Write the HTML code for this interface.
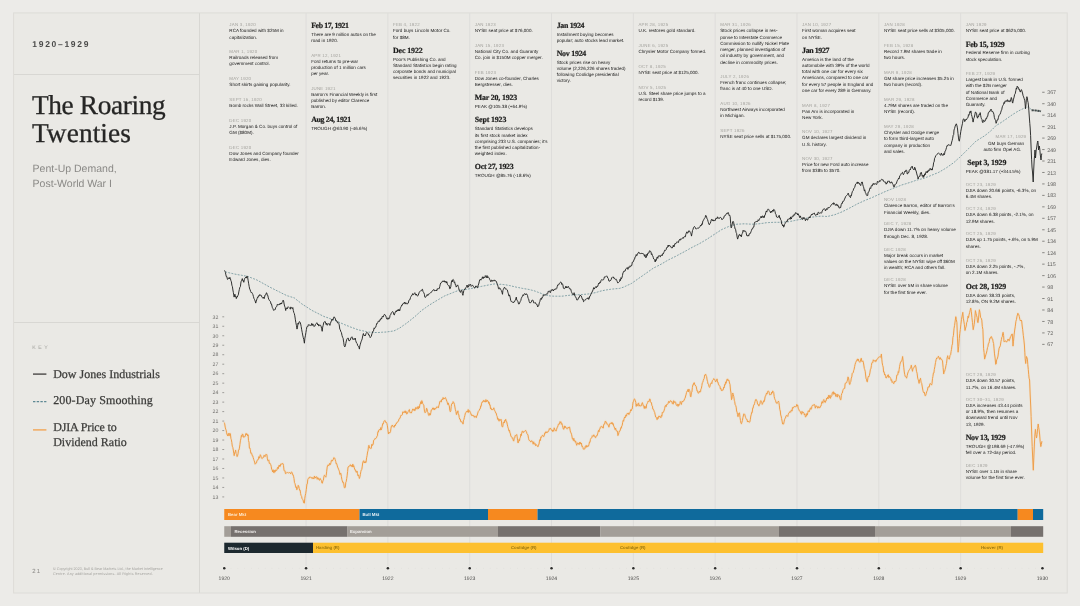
<!DOCTYPE html>
<html lang="en"><head><meta charset="utf-8"><title>The Roaring Twenties, 1920–1929</title>
<style>
*{margin:0;padding:0;box-sizing:border-box}
html,body{width:1080px;height:606px;overflow:hidden;background:#ecebe8}
body{position:relative;font-family:"Liberation Sans",sans-serif;color:#161616;text-rendering:geometricPrecision}
#frame{position:absolute;left:13.6px;top:12.9px;width:1053.6px;height:580.1px;background:#eae9e5}
.hl{position:absolute;left:14px;width:185px;height:1px;background:#d8d7d3}
.vl{position:absolute;top:13px;width:1px;height:580px;background:#d8d7d3}
svg{position:absolute;left:0;top:0}
.t{position:absolute;white-space:nowrap}
.era{left:32.3px;top:39.3px;font-size:8.5px;line-height:10px;font-weight:bold;letter-spacing:1.7px;color:#4a4a49}
.title{left:32px;top:91.2px;font-family:"Liberation Serif",serif;font-size:27.3px;line-height:28.3px;letter-spacing:-0.35px;color:#262625;-webkit-text-stroke:.3px #262625}
.title span{letter-spacing:.1px;position:relative;top:0px}
.sub{left:32.6px;font-size:10.5px;line-height:14px;color:#8a8986}
.key{left:32.3px;top:345px;font-size:5.2px;line-height:7px;letter-spacing:2.5px;color:#a3a29e}
.lg{left:53.2px;font-family:"Liberation Serif",serif;font-size:12px;line-height:15px;color:#3c3c3a;-webkit-text-stroke:.25px #3c3c3a}
.pg{left:32.3px;top:567.6px;font-size:6px;line-height:8px;letter-spacing:1.2px;color:#8b8a87}
.cp{left:53px;top:567.4px;font-size:3.7px;line-height:5px;color:#a6a5a1}
.ann{position:absolute;white-space:nowrap;font-size:4.55px;letter-spacing:.02px;line-height:6.25px;color:#161616}
.ann b{display:block;font-weight:normal;font-size:4.4px;letter-spacing:.22px;color:#a3a29d;line-height:6.1px}
.ann h3{display:block;font-family:"Liberation Serif",serif;font-weight:bold;font-size:7.9px;letter-spacing:-.12px;line-height:8px;color:#1c1c1b;-webkit-text-stroke:.2px #1c1c1b;margin-top:-1px;margin-bottom:2.1px}
.ann i{display:block;font-style:normal}
.ax{position:absolute;font-size:5.2px;line-height:6px;color:#6f6e6b;white-space:nowrap}
.axr{font-size:5.3px;color:#5f5e5c}
.yr{position:absolute;font-size:5.1px;line-height:7px;color:#4d4c4a;white-space:nowrap;width:30px;text-align:center}
.bl{position:absolute;font-size:4.3px;line-height:6px;white-space:nowrap;font-weight:bold}
</style></head>
<body>
<div id="frame"></div>
<div class="hl" style="top:74px"></div>
<div class="hl" style="top:322px"></div>
<div class="vl" style="left:198.6px"></div>
<svg width="1080" height="606" viewBox="0 0 1080 606">
<rect x="13.6" y="12.9" width="1053.6" height="580.1" fill="none" stroke="#dddcd8" stroke-width="1"/>
<line x1="306.07" y1="13" x2="306.07" y2="566" stroke="#dedddb" stroke-width="1"/>
<line x1="387.89" y1="13" x2="387.89" y2="566" stroke="#dedddb" stroke-width="1"/>
<line x1="469.71" y1="13" x2="469.71" y2="566" stroke="#dedddb" stroke-width="1"/>
<line x1="551.53" y1="13" x2="551.53" y2="566" stroke="#dedddb" stroke-width="1"/>
<line x1="633.35" y1="13" x2="633.35" y2="566" stroke="#dedddb" stroke-width="1"/>
<line x1="715.17" y1="13" x2="715.17" y2="566" stroke="#dedddb" stroke-width="1"/>
<line x1="796.99" y1="13" x2="796.99" y2="566" stroke="#dedddb" stroke-width="1"/>
<line x1="878.81" y1="13" x2="878.81" y2="566" stroke="#dedddb" stroke-width="1"/>
<line x1="960.63" y1="13" x2="960.63" y2="566" stroke="#dedddb" stroke-width="1"/>
<rect x="224.25" y="509.00" width="135.25" height="11.00" fill="#f6891f"/>
<rect x="359.50" y="509.00" width="128.50" height="11.00" fill="#0f6a9c"/>
<rect x="488.00" y="509.00" width="49.50" height="11.00" fill="#f6891f"/>
<rect x="537.50" y="509.00" width="480.20" height="11.00" fill="#0f6a9c"/>
<rect x="1017.70" y="509.00" width="15.30" height="11.00" fill="#f6891f"/>
<rect x="1033.00" y="509.00" width="10.20" height="11.00" fill="#0f6a9c"/>
<rect x="224.25" y="526.20" width="6.75" height="10.60" fill="#a39e98"/>
<rect x="231.00" y="526.20" width="116.50" height="10.60" fill="#76716e"/>
<rect x="347.50" y="526.20" width="150.50" height="10.60" fill="#a39e98"/>
<rect x="498.00" y="526.20" width="102.30" height="10.60" fill="#76716e"/>
<rect x="600.30" y="526.20" width="178.70" height="10.60" fill="#a39e98"/>
<rect x="779.00" y="526.20" width="96.00" height="10.60" fill="#76716e"/>
<rect x="875.00" y="526.20" width="136.00" height="10.60" fill="#a39e98"/>
<rect x="1011.00" y="526.20" width="32.20" height="10.60" fill="#76716e"/>
<rect x="224.25" y="542.70" width="88.75" height="10.30" fill="#1d292f"/>
<rect x="313.00" y="542.70" width="730.20" height="10.30" fill="#fdc02f"/>
<circle cx="224.25" cy="568.3" r="1.25" fill="#2b2b2a"/>
<circle cx="306.07" cy="568.3" r="1.25" fill="#2b2b2a"/>
<circle cx="387.89" cy="568.3" r="1.25" fill="#2b2b2a"/>
<circle cx="469.71" cy="568.3" r="1.25" fill="#2b2b2a"/>
<circle cx="551.53" cy="568.3" r="1.25" fill="#2b2b2a"/>
<circle cx="633.35" cy="568.3" r="1.25" fill="#2b2b2a"/>
<circle cx="715.17" cy="568.3" r="1.25" fill="#2b2b2a"/>
<circle cx="796.99" cy="568.3" r="1.25" fill="#2b2b2a"/>
<circle cx="878.81" cy="568.3" r="1.25" fill="#2b2b2a"/>
<circle cx="960.63" cy="568.3" r="1.25" fill="#2b2b2a"/>
<circle cx="1042.45" cy="568.3" r="1.25" fill="#2b2b2a"/>
<circle cx="231.07" cy="568.3" r="0.45" fill="#dddcd8"/>
<circle cx="237.89" cy="568.3" r="0.45" fill="#dddcd8"/>
<circle cx="244.70" cy="568.3" r="0.45" fill="#dddcd8"/>
<circle cx="251.52" cy="568.3" r="0.45" fill="#dddcd8"/>
<circle cx="258.34" cy="568.3" r="0.45" fill="#dddcd8"/>
<circle cx="265.16" cy="568.3" r="0.45" fill="#dddcd8"/>
<circle cx="271.98" cy="568.3" r="0.45" fill="#dddcd8"/>
<circle cx="278.80" cy="568.3" r="0.45" fill="#dddcd8"/>
<circle cx="285.62" cy="568.3" r="0.45" fill="#dddcd8"/>
<circle cx="292.43" cy="568.3" r="0.45" fill="#dddcd8"/>
<circle cx="299.25" cy="568.3" r="0.45" fill="#dddcd8"/>
<circle cx="312.89" cy="568.3" r="0.45" fill="#dddcd8"/>
<circle cx="319.71" cy="568.3" r="0.45" fill="#dddcd8"/>
<circle cx="326.52" cy="568.3" r="0.45" fill="#dddcd8"/>
<circle cx="333.34" cy="568.3" r="0.45" fill="#dddcd8"/>
<circle cx="340.16" cy="568.3" r="0.45" fill="#dddcd8"/>
<circle cx="346.98" cy="568.3" r="0.45" fill="#dddcd8"/>
<circle cx="353.80" cy="568.3" r="0.45" fill="#dddcd8"/>
<circle cx="360.62" cy="568.3" r="0.45" fill="#dddcd8"/>
<circle cx="367.44" cy="568.3" r="0.45" fill="#dddcd8"/>
<circle cx="374.25" cy="568.3" r="0.45" fill="#dddcd8"/>
<circle cx="381.07" cy="568.3" r="0.45" fill="#dddcd8"/>
<circle cx="394.71" cy="568.3" r="0.45" fill="#dddcd8"/>
<circle cx="401.53" cy="568.3" r="0.45" fill="#dddcd8"/>
<circle cx="408.34" cy="568.3" r="0.45" fill="#dddcd8"/>
<circle cx="415.16" cy="568.3" r="0.45" fill="#dddcd8"/>
<circle cx="421.98" cy="568.3" r="0.45" fill="#dddcd8"/>
<circle cx="428.80" cy="568.3" r="0.45" fill="#dddcd8"/>
<circle cx="435.62" cy="568.3" r="0.45" fill="#dddcd8"/>
<circle cx="442.44" cy="568.3" r="0.45" fill="#dddcd8"/>
<circle cx="449.25" cy="568.3" r="0.45" fill="#dddcd8"/>
<circle cx="456.07" cy="568.3" r="0.45" fill="#dddcd8"/>
<circle cx="462.89" cy="568.3" r="0.45" fill="#dddcd8"/>
<circle cx="476.53" cy="568.3" r="0.45" fill="#dddcd8"/>
<circle cx="483.35" cy="568.3" r="0.45" fill="#dddcd8"/>
<circle cx="490.16" cy="568.3" r="0.45" fill="#dddcd8"/>
<circle cx="496.98" cy="568.3" r="0.45" fill="#dddcd8"/>
<circle cx="503.80" cy="568.3" r="0.45" fill="#dddcd8"/>
<circle cx="510.62" cy="568.3" r="0.45" fill="#dddcd8"/>
<circle cx="517.44" cy="568.3" r="0.45" fill="#dddcd8"/>
<circle cx="524.26" cy="568.3" r="0.45" fill="#dddcd8"/>
<circle cx="531.07" cy="568.3" r="0.45" fill="#dddcd8"/>
<circle cx="537.89" cy="568.3" r="0.45" fill="#dddcd8"/>
<circle cx="544.71" cy="568.3" r="0.45" fill="#dddcd8"/>
<circle cx="558.35" cy="568.3" r="0.45" fill="#dddcd8"/>
<circle cx="565.17" cy="568.3" r="0.45" fill="#dddcd8"/>
<circle cx="571.99" cy="568.3" r="0.45" fill="#dddcd8"/>
<circle cx="578.80" cy="568.3" r="0.45" fill="#dddcd8"/>
<circle cx="585.62" cy="568.3" r="0.45" fill="#dddcd8"/>
<circle cx="592.44" cy="568.3" r="0.45" fill="#dddcd8"/>
<circle cx="599.26" cy="568.3" r="0.45" fill="#dddcd8"/>
<circle cx="606.08" cy="568.3" r="0.45" fill="#dddcd8"/>
<circle cx="612.89" cy="568.3" r="0.45" fill="#dddcd8"/>
<circle cx="619.71" cy="568.3" r="0.45" fill="#dddcd8"/>
<circle cx="626.53" cy="568.3" r="0.45" fill="#dddcd8"/>
<circle cx="640.17" cy="568.3" r="0.45" fill="#dddcd8"/>
<circle cx="646.99" cy="568.3" r="0.45" fill="#dddcd8"/>
<circle cx="653.80" cy="568.3" r="0.45" fill="#dddcd8"/>
<circle cx="660.62" cy="568.3" r="0.45" fill="#dddcd8"/>
<circle cx="667.44" cy="568.3" r="0.45" fill="#dddcd8"/>
<circle cx="674.26" cy="568.3" r="0.45" fill="#dddcd8"/>
<circle cx="681.08" cy="568.3" r="0.45" fill="#dddcd8"/>
<circle cx="687.90" cy="568.3" r="0.45" fill="#dddcd8"/>
<circle cx="694.71" cy="568.3" r="0.45" fill="#dddcd8"/>
<circle cx="701.53" cy="568.3" r="0.45" fill="#dddcd8"/>
<circle cx="708.35" cy="568.3" r="0.45" fill="#dddcd8"/>
<circle cx="721.99" cy="568.3" r="0.45" fill="#dddcd8"/>
<circle cx="728.81" cy="568.3" r="0.45" fill="#dddcd8"/>
<circle cx="735.62" cy="568.3" r="0.45" fill="#dddcd8"/>
<circle cx="742.44" cy="568.3" r="0.45" fill="#dddcd8"/>
<circle cx="749.26" cy="568.3" r="0.45" fill="#dddcd8"/>
<circle cx="756.08" cy="568.3" r="0.45" fill="#dddcd8"/>
<circle cx="762.90" cy="568.3" r="0.45" fill="#dddcd8"/>
<circle cx="769.72" cy="568.3" r="0.45" fill="#dddcd8"/>
<circle cx="776.53" cy="568.3" r="0.45" fill="#dddcd8"/>
<circle cx="783.35" cy="568.3" r="0.45" fill="#dddcd8"/>
<circle cx="790.17" cy="568.3" r="0.45" fill="#dddcd8"/>
<circle cx="803.81" cy="568.3" r="0.45" fill="#dddcd8"/>
<circle cx="810.63" cy="568.3" r="0.45" fill="#dddcd8"/>
<circle cx="817.45" cy="568.3" r="0.45" fill="#dddcd8"/>
<circle cx="824.26" cy="568.3" r="0.45" fill="#dddcd8"/>
<circle cx="831.08" cy="568.3" r="0.45" fill="#dddcd8"/>
<circle cx="837.90" cy="568.3" r="0.45" fill="#dddcd8"/>
<circle cx="844.72" cy="568.3" r="0.45" fill="#dddcd8"/>
<circle cx="851.54" cy="568.3" r="0.45" fill="#dddcd8"/>
<circle cx="858.36" cy="568.3" r="0.45" fill="#dddcd8"/>
<circle cx="865.17" cy="568.3" r="0.45" fill="#dddcd8"/>
<circle cx="871.99" cy="568.3" r="0.45" fill="#dddcd8"/>
<circle cx="885.63" cy="568.3" r="0.45" fill="#dddcd8"/>
<circle cx="892.45" cy="568.3" r="0.45" fill="#dddcd8"/>
<circle cx="899.26" cy="568.3" r="0.45" fill="#dddcd8"/>
<circle cx="906.08" cy="568.3" r="0.45" fill="#dddcd8"/>
<circle cx="912.90" cy="568.3" r="0.45" fill="#dddcd8"/>
<circle cx="919.72" cy="568.3" r="0.45" fill="#dddcd8"/>
<circle cx="926.54" cy="568.3" r="0.45" fill="#dddcd8"/>
<circle cx="933.36" cy="568.3" r="0.45" fill="#dddcd8"/>
<circle cx="940.17" cy="568.3" r="0.45" fill="#dddcd8"/>
<circle cx="946.99" cy="568.3" r="0.45" fill="#dddcd8"/>
<circle cx="953.81" cy="568.3" r="0.45" fill="#dddcd8"/>
<circle cx="967.45" cy="568.3" r="0.45" fill="#dddcd8"/>
<circle cx="974.27" cy="568.3" r="0.45" fill="#dddcd8"/>
<circle cx="981.08" cy="568.3" r="0.45" fill="#dddcd8"/>
<circle cx="987.90" cy="568.3" r="0.45" fill="#dddcd8"/>
<circle cx="994.72" cy="568.3" r="0.45" fill="#dddcd8"/>
<circle cx="1001.54" cy="568.3" r="0.45" fill="#dddcd8"/>
<circle cx="1008.36" cy="568.3" r="0.45" fill="#dddcd8"/>
<circle cx="1015.18" cy="568.3" r="0.45" fill="#dddcd8"/>
<circle cx="1021.99" cy="568.3" r="0.45" fill="#dddcd8"/>
<circle cx="1028.81" cy="568.3" r="0.45" fill="#dddcd8"/>
<circle cx="1035.63" cy="568.3" r="0.45" fill="#dddcd8"/>
<line x1="222.3" y1="316.80" x2="224.2" y2="316.80" stroke="#7e7d7a" stroke-width=".7"/>
<line x1="222.3" y1="326.28" x2="224.2" y2="326.28" stroke="#7e7d7a" stroke-width=".7"/>
<line x1="222.3" y1="335.76" x2="224.2" y2="335.76" stroke="#7e7d7a" stroke-width=".7"/>
<line x1="222.3" y1="345.24" x2="224.2" y2="345.24" stroke="#7e7d7a" stroke-width=".7"/>
<line x1="222.3" y1="354.72" x2="224.2" y2="354.72" stroke="#7e7d7a" stroke-width=".7"/>
<line x1="222.3" y1="364.20" x2="224.2" y2="364.20" stroke="#7e7d7a" stroke-width=".7"/>
<line x1="222.3" y1="373.68" x2="224.2" y2="373.68" stroke="#7e7d7a" stroke-width=".7"/>
<line x1="222.3" y1="383.16" x2="224.2" y2="383.16" stroke="#7e7d7a" stroke-width=".7"/>
<line x1="222.3" y1="392.64" x2="224.2" y2="392.64" stroke="#7e7d7a" stroke-width=".7"/>
<line x1="222.3" y1="402.12" x2="224.2" y2="402.12" stroke="#7e7d7a" stroke-width=".7"/>
<line x1="222.3" y1="411.60" x2="224.2" y2="411.60" stroke="#7e7d7a" stroke-width=".7"/>
<line x1="222.3" y1="421.08" x2="224.2" y2="421.08" stroke="#7e7d7a" stroke-width=".7"/>
<line x1="222.3" y1="430.56" x2="224.2" y2="430.56" stroke="#7e7d7a" stroke-width=".7"/>
<line x1="222.3" y1="440.04" x2="224.2" y2="440.04" stroke="#7e7d7a" stroke-width=".7"/>
<line x1="222.3" y1="449.52" x2="224.2" y2="449.52" stroke="#7e7d7a" stroke-width=".7"/>
<line x1="222.3" y1="459.00" x2="224.2" y2="459.00" stroke="#7e7d7a" stroke-width=".7"/>
<line x1="222.3" y1="468.48" x2="224.2" y2="468.48" stroke="#7e7d7a" stroke-width=".7"/>
<line x1="222.3" y1="477.96" x2="224.2" y2="477.96" stroke="#7e7d7a" stroke-width=".7"/>
<line x1="222.3" y1="487.44" x2="224.2" y2="487.44" stroke="#7e7d7a" stroke-width=".7"/>
<line x1="222.3" y1="496.92" x2="224.2" y2="496.92" stroke="#7e7d7a" stroke-width=".7"/>
<line x1="1042.2" y1="92.25" x2="1044.6" y2="92.25" stroke="#6e6d6a" stroke-width=".8"/>
<line x1="1042.2" y1="103.71" x2="1044.6" y2="103.71" stroke="#6e6d6a" stroke-width=".8"/>
<line x1="1042.2" y1="115.17" x2="1044.6" y2="115.17" stroke="#6e6d6a" stroke-width=".8"/>
<line x1="1042.2" y1="126.63" x2="1044.6" y2="126.63" stroke="#6e6d6a" stroke-width=".8"/>
<line x1="1042.2" y1="138.09" x2="1044.6" y2="138.09" stroke="#6e6d6a" stroke-width=".8"/>
<line x1="1042.2" y1="149.55" x2="1044.6" y2="149.55" stroke="#6e6d6a" stroke-width=".8"/>
<line x1="1042.2" y1="161.01" x2="1044.6" y2="161.01" stroke="#6e6d6a" stroke-width=".8"/>
<line x1="1042.2" y1="172.47" x2="1044.6" y2="172.47" stroke="#6e6d6a" stroke-width=".8"/>
<line x1="1042.2" y1="183.93" x2="1044.6" y2="183.93" stroke="#6e6d6a" stroke-width=".8"/>
<line x1="1042.2" y1="195.39" x2="1044.6" y2="195.39" stroke="#6e6d6a" stroke-width=".8"/>
<line x1="1042.2" y1="206.85" x2="1044.6" y2="206.85" stroke="#6e6d6a" stroke-width=".8"/>
<line x1="1042.2" y1="218.31" x2="1044.6" y2="218.31" stroke="#6e6d6a" stroke-width=".8"/>
<line x1="1042.2" y1="229.77" x2="1044.6" y2="229.77" stroke="#6e6d6a" stroke-width=".8"/>
<line x1="1042.2" y1="241.23" x2="1044.6" y2="241.23" stroke="#6e6d6a" stroke-width=".8"/>
<line x1="1042.2" y1="252.69" x2="1044.6" y2="252.69" stroke="#6e6d6a" stroke-width=".8"/>
<line x1="1042.2" y1="264.15" x2="1044.6" y2="264.15" stroke="#6e6d6a" stroke-width=".8"/>
<line x1="1042.2" y1="275.61" x2="1044.6" y2="275.61" stroke="#6e6d6a" stroke-width=".8"/>
<line x1="1042.2" y1="287.07" x2="1044.6" y2="287.07" stroke="#6e6d6a" stroke-width=".8"/>
<line x1="1042.2" y1="298.53" x2="1044.6" y2="298.53" stroke="#6e6d6a" stroke-width=".8"/>
<line x1="1042.2" y1="309.99" x2="1044.6" y2="309.99" stroke="#6e6d6a" stroke-width=".8"/>
<line x1="1042.2" y1="321.45" x2="1044.6" y2="321.45" stroke="#6e6d6a" stroke-width=".8"/>
<line x1="1042.2" y1="332.91" x2="1044.6" y2="332.91" stroke="#6e6d6a" stroke-width=".8"/>
<line x1="1042.2" y1="344.37" x2="1044.6" y2="344.37" stroke="#6e6d6a" stroke-width=".8"/>
<path d="M225.2,271.9 L227.1,272.3 L229.1,272.8 L231.0,273.2 L232.9,273.7 L234.9,274.1 L237.0,274.5 L239.1,274.9 L241.2,275.2 L243.3,275.6 L245.4,276.0 L247.5,276.3 L249.4,277.1 L251.3,277.8 L253.3,278.6 L255.2,279.3 L257.1,280.1 L259.1,281.2 L261.1,282.3 L263.1,283.4 L265.1,284.5 L267.0,285.6 L269.0,286.7 L271.1,287.8 L273.2,288.8 L275.3,289.9 L277.3,290.9 L279.4,291.9 L281.3,292.9 L283.1,293.8 L285.0,294.7 L286.9,295.7 L288.7,296.2 L290.6,296.8 L292.4,297.3 L294.3,297.9 L296.1,299.4 L298.0,300.9 L299.9,302.3 L301.7,303.8 L303.8,305.2 L305.9,306.5 L307.9,307.8 L310.0,309.2 L312.1,310.5 L314.1,311.5 L316.1,312.5 L318.1,313.5 L320.0,314.5 L322.0,315.5 L324.0,316.5 L326.1,317.2 L328.2,317.9 L330.2,318.7 L332.3,319.4 L334.4,320.2 L336.4,321.0 L338.4,321.9 L340.3,322.8 L342.3,323.6 L344.3,324.5 L346.3,325.4 L348.3,326.1 L350.2,326.9 L352.2,327.6 L354.2,328.3 L356.2,329.1 L358.2,329.8 L360.2,330.3 L362.3,330.7 L364.4,331.2 L366.5,331.6 L368.6,332.1 L370.8,332.3 L373.0,332.5 L375.0,332.5 L376.9,332.5 L378.9,332.5 L380.8,332.3 L382.6,332.2 L384.5,332.1 L386.3,332.0 L388.2,331.7 L390.1,331.5 L391.9,331.2 L393.8,331.0 L395.8,330.0 L397.7,329.0 L399.7,328.0 L401.6,326.7 L403.4,325.4 L405.3,324.1 L407.1,322.8 L409.0,321.3 L410.9,319.8 L412.7,318.3 L414.6,316.9 L416.4,315.2 L418.3,313.5 L420.1,311.8 L422.0,310.2 L423.9,308.9 L425.7,307.6 L427.6,306.3 L429.4,305.0 L431.3,303.9 L433.1,302.7 L435.0,301.6 L436.9,300.5 L438.7,299.4 L440.6,298.3 L442.4,297.2 L444.3,296.1 L446.1,295.3 L448.0,294.6 L449.9,293.8 L451.7,293.1 L453.6,292.3 L455.4,291.6 L457.3,290.9 L459.1,290.1 L461.0,289.9 L462.9,289.7 L464.7,289.6 L466.6,289.4 L468.4,289.0 L470.3,288.6 L472.1,288.3 L474.0,287.9 L475.8,287.5 L477.7,287.1 L479.6,286.8 L481.4,286.4 L483.3,286.0 L485.1,285.7 L487.0,285.3 L488.8,284.9 L490.8,284.6 L492.8,284.2 L494.8,283.9 L497.0,284.2 L499.2,284.5 L500.0,284.2 L501.9,284.4 L503.7,284.6 L505.6,284.8 L507.5,285.2 L509.4,285.5 L511.2,285.9 L513.1,286.4 L515.0,286.8 L516.8,287.3 L518.7,287.6 L520.6,288.0 L522.5,288.4 L524.3,288.7 L526.2,289.0 L528.1,289.3 L529.9,289.7 L531.8,290.2 L533.7,290.6 L535.5,291.3 L537.4,292.0 L539.3,292.7 L541.2,293.4 L543.0,294.2 L544.9,294.9 L546.8,295.3 L548.6,295.7 L550.5,296.0 L552.4,296.1 L554.3,296.2 L556.1,296.2 L558.0,296.2 L559.9,296.2 L561.7,296.2 L563.6,296.0 L565.5,295.7 L567.4,295.5 L569.2,295.3 L571.1,295.1 L573.0,294.9 L574.8,294.8 L576.7,294.8 L578.6,294.7 L580.4,294.6 L582.3,294.5 L584.2,294.3 L586.1,294.2 L587.9,294.0 L589.8,293.8 L591.7,293.4 L593.5,293.0 L595.4,292.7 L597.3,292.1 L599.2,291.5 L601.0,291.0 L602.9,290.6 L604.8,290.2 L606.6,289.9 L608.5,289.6 L610.4,289.3 L612.3,289.1 L614.1,288.9 L615.9,288.7 L617.7,288.6 L619.6,288.4 L621.8,287.7 L624.0,287.0 L625.8,286.1 L627.7,285.2 L629.6,284.4 L631.4,283.5 L633.3,282.2 L635.1,280.9 L637.0,279.6 L638.8,278.3 L640.7,277.0 L642.6,275.7 L644.4,274.4 L646.3,273.1 L648.1,271.8 L650.0,270.5 L651.8,269.2 L653.7,267.9 L655.6,267.0 L657.4,266.1 L659.3,265.2 L661.1,264.2 L663.0,263.1 L664.8,262.0 L666.7,260.9 L668.6,259.8 L670.0,259.1 L671.9,258.2 L673.7,257.3 L675.6,256.4 L677.4,255.4 L679.3,254.4 L681.1,253.4 L683.0,252.4 L684.9,251.4 L686.7,250.4 L688.6,249.3 L690.4,248.3 L692.3,247.3 L694.1,246.3 L696.0,245.4 L697.9,244.5 L699.7,243.5 L701.6,242.4 L703.4,241.3 L705.3,240.2 L707.1,239.1 L709.0,237.9 L710.9,236.6 L712.7,235.4 L714.6,234.2 L716.4,233.0 L718.3,231.8 L720.1,230.6 L722.0,229.4 L723.9,228.6 L725.7,227.8 L727.6,227.0 L729.4,226.2 L731.3,225.7 L733.1,225.2 L735.0,224.7 L736.9,224.2 L738.7,224.1 L740.6,224.0 L742.4,223.9 L744.3,223.8 L746.1,223.9 L748.0,224.0 L749.9,224.1 L751.7,224.2 L753.6,224.1 L755.4,224.0 L757.3,223.9 L759.1,223.8 L761.0,223.5 L762.9,223.3 L764.7,223.0 L766.6,222.7 L768.4,222.6 L770.3,222.5 L772.1,222.4 L774.0,222.3 L775.8,222.3 L777.7,222.3 L779.6,222.3 L781.4,222.3 L783.3,222.1 L785.1,222.0 L787.0,221.8 L788.8,221.7 L790.7,221.3 L792.6,221.0 L794.4,220.6 L796.3,220.2 L798.1,219.8 L800.0,219.5 L801.8,219.1 L803.7,218.7 L805.6,218.4 L807.4,218.0 L809.3,217.6 L811.1,217.2 L813.0,217.0 L814.8,216.8 L816.7,216.6 L818.6,216.4 L820.0,216.2 L821.9,216.2 L823.7,216.3 L825.6,216.4 L827.4,216.5 L829.3,216.0 L831.1,215.6 L833.0,215.1 L834.9,214.7 L836.7,213.9 L838.6,213.2 L840.4,212.5 L842.3,211.7 L844.1,210.8 L846.0,209.9 L847.9,208.9 L849.7,208.0 L851.6,207.0 L853.4,206.0 L855.3,205.0 L857.1,204.0 L859.0,203.1 L860.9,202.3 L862.7,201.4 L864.6,200.6 L866.4,199.8 L868.3,199.1 L870.1,198.3 L872.0,197.6 L873.9,196.7 L875.7,195.9 L877.6,195.0 L879.4,194.2 L881.3,193.4 L883.1,192.5 L885.0,191.7 L886.9,190.9 L888.7,190.2 L890.6,189.4 L892.4,188.7 L894.3,187.9 L896.1,187.2 L898.0,186.5 L899.9,185.7 L901.7,185.0 L903.6,184.4 L905.4,183.9 L907.3,183.3 L909.1,182.7 L911.0,182.1 L912.9,181.5 L914.7,180.8 L916.6,180.2 L918.4,179.7 L920.3,179.2 L922.1,178.8 L924.0,178.3 L925.8,177.5 L927.7,176.8 L929.6,176.1 L931.4,175.3 L933.3,174.6 L935.1,173.8 L937.0,173.1 L938.8,172.3 L940.7,171.2 L942.6,170.1 L944.4,169.0 L946.3,167.9 L948.1,166.6 L950.0,165.3 L951.8,164.0 L953.7,162.7 L955.6,161.0 L957.4,159.3 L959.3,157.7 L961.1,156.0 L963.0,154.1 L964.8,152.3 L966.7,150.4 L968.6,148.6 L970.4,146.7 L972.3,144.9 L974.1,143.0 L976.0,141.1 L978.2,139.8 L980.4,138.4 L982.7,137.0 L984.9,135.6 L986.8,134.1 L988.6,132.6 L990.5,131.1 L992.4,129.3 L994.3,127.4 L996.1,125.5 L998.0,124.4 L999.9,123.3 L1001.7,122.1 L1003.6,120.8 L1005.5,119.5 L1007.4,118.2 L1009.2,116.9 L1011.1,115.6 L1013.0,114.3 L1014.8,113.2 L1016.7,112.0 L1018.6,110.9 L1020.4,110.0 L1022.3,109.1 L1024.2,108.1 L1026.4,107.4 L1028.7,106.7 L1031.5,110.0 L1033.8,110.3 L1036.0,110.6 L1038.5,111.0 L1041.0,111.5" fill="none" stroke="#5f8890" stroke-width=".75" stroke-dasharray="1.9 1.3"/>
<path d="M224.2,422.5 L224.7,423.8 L225.2,427.1 L225.7,429.1 L226.2,430.3 L226.6,432.8 L227.1,434.6 L227.6,435.8 L228.1,433.9 L228.5,433.4 L229.0,436.0 L229.5,433.6 L230.0,433.2 L230.4,433.9 L230.9,438.5 L231.3,439.5 L231.8,442.4 L232.3,446.2 L232.8,447.4 L233.3,450.0 L233.8,453.4 L234.2,455.7 L234.7,452.5 L235.1,452.4 L235.6,450.0 L236.1,453.5 L236.6,454.5 L237.1,456.6 L237.5,455.9 L238.0,453.9 L238.5,450.1 L239.0,450.0 L239.4,448.1 L239.9,444.6 L240.4,440.8 L240.9,438.6 L241.4,435.4 L241.9,436.8 L242.4,433.9 L242.9,434.5 L243.3,436.1 L243.8,437.4 L244.3,436.7 L244.8,436.6 L245.2,436.5 L245.7,433.8 L246.2,433.3 L246.6,434.8 L247.1,433.9 L247.6,436.0 L248.1,434.8 L248.5,440.6 L249.0,442.2 L249.4,448.1 L249.9,448.0 L250.3,449.5 L250.8,453.3 L251.3,452.9 L251.8,453.8 L252.2,455.7 L252.7,455.7 L253.2,457.6 L253.7,459.3 L254.1,460.5 L254.6,462.0 L255.1,464.2 L255.6,463.6 L256.0,462.6 L256.5,462.8 L257.0,460.4 L257.5,460.1 L257.9,460.1 L258.4,458.9 L258.9,456.6 L259.4,458.2 L259.8,456.8 L260.3,454.7 L260.8,455.7 L261.3,457.5 L261.7,458.3 L262.2,458.6 L262.7,457.6 L263.2,457.4 L263.6,457.4 L264.1,455.1 L264.6,455.7 L265.0,456.7 L265.5,455.5 L266.0,454.2 L266.5,454.7 L266.9,454.6 L267.4,458.9 L267.9,460.8 L268.4,460.4 L268.8,459.9 L269.3,463.4 L269.8,463.0 L270.3,464.2 L270.7,464.4 L271.2,466.3 L271.7,469.5 L272.2,469.9 L272.6,472.0 L273.1,469.7 L273.6,472.5 L274.1,472.8 L274.5,470.4 L275.0,472.1 L275.5,470.0 L276.0,469.9 L276.4,470.6 L276.9,470.2 L277.4,467.8 L277.9,467.1 L278.3,468.7 L278.8,466.0 L279.3,465.0 L279.8,466.7 L280.3,466.1 L280.8,463.9 L281.2,463.9 L281.7,464.1 L282.1,464.2 L282.6,463.3 L283.1,463.9 L283.5,465.4 L284.0,470.3 L284.5,470.9 L285.0,470.7 L285.4,473.5 L285.9,473.7 L286.4,472.8 L286.9,472.3 L287.3,472.5 L287.8,472.6 L288.3,473.0 L288.8,472.8 L289.2,472.4 L289.7,472.6 L290.2,472.8 L290.7,474.0 L291.1,472.4 L291.6,472.1 L292.1,472.4 L292.6,474.7 L293.0,474.5 L293.5,476.2 L294.0,478.5 L294.5,482.7 L295.0,483.6 L295.5,486.0 L295.9,487.5 L296.4,486.8 L296.8,489.8 L297.3,488.6 L297.8,488.2 L298.2,485.3 L298.7,486.0 L299.2,488.4 L299.7,490.3 L300.1,490.1 L300.6,493.6 L301.1,495.5 L301.6,496.4 L302.0,498.5 L302.5,499.3 L303.0,499.7 L303.5,502.0 L303.9,503.0 L304.4,503.1 L304.8,498.2 L305.3,495.2 L305.7,493.6 L306.3,489.5 L306.9,484.1 L307.3,483.9 L307.8,479.5 L308.2,478.5 L308.7,478.1 L309.1,478.3 L309.6,477.1 L310.1,477.5 L310.6,477.2 L311.0,477.1 L311.5,477.5 L312.0,478.5 L312.5,477.6 L312.9,478.5 L313.4,477.8 L313.9,478.9 L314.4,476.0 L314.8,477.7 L315.3,478.0 L315.8,476.9 L316.3,476.7 L316.7,476.8 L317.2,479.3 L317.7,477.6 L318.2,477.9 L318.6,479.4 L319.1,479.3 L319.6,480.4 L320.1,478.4 L320.5,479.4 L321.0,479.6 L321.5,480.4 L321.9,483.0 L322.4,483.2 L322.9,480.8 L323.4,480.1 L323.9,476.6 L324.4,475.2 L324.9,475.6 L325.3,476.5 L325.8,477.2 L326.2,475.6 L326.7,471.2 L327.2,467.1 L327.6,465.6 L328.1,464.8 L328.6,465.8 L329.1,465.2 L329.5,463.4 L330.0,464.9 L330.5,464.3 L331.0,462.3 L331.4,460.4 L331.9,460.0 L332.4,461.1 L332.9,459.7 L333.3,459.5 L333.8,457.6 L334.3,458.0 L334.8,458.2 L335.2,459.7 L335.7,461.4 L336.2,463.9 L336.6,463.4 L337.1,465.1 L337.6,467.1 L338.1,468.0 L338.5,469.2 L339.0,470.3 L339.5,471.8 L340.0,474.5 L340.4,473.0 L340.9,473.6 L341.4,476.6 L341.9,479.6 L342.3,480.8 L342.8,482.6 L343.3,482.2 L343.8,483.9 L344.3,487.7 L344.8,487.9 L345.3,487.1 L345.8,482.2 L346.2,481.7 L346.7,478.5 L347.1,475.9 L347.6,471.5 L348.0,467.1 L348.5,467.0 L349.0,466.0 L349.5,466.0 L349.9,465.5 L350.4,464.7 L350.9,466.1 L351.3,466.4 L351.8,465.2 L352.3,467.0 L352.8,464.1 L353.2,467.1 L353.7,465.6 L354.2,467.3 L354.7,469.3 L355.1,470.3 L355.6,469.9 L356.1,472.3 L356.6,472.1 L357.0,471.0 L357.5,473.7 L358.0,475.8 L358.5,474.9 L358.9,476.6 L359.4,478.5 L359.9,476.9 L360.4,474.3 L360.8,471.7 L361.3,469.9 L361.8,469.4 L362.3,466.1 L362.7,462.9 L363.2,461.4 L363.7,460.7 L364.2,463.0 L364.6,461.8 L365.1,463.0 L365.6,461.6 L366.0,462.3 L366.6,457.8 L367.1,455.5 L367.6,451.9 L368.0,450.8 L368.5,446.3 L368.9,445.3 L369.4,447.0 L369.8,448.2 L370.3,448.5 L370.8,448.1 L371.3,448.3 L371.7,444.4 L372.2,445.7 L372.7,444.3 L373.2,444.4 L373.6,440.3 L374.1,439.9 L374.6,439.6 L375.1,438.3 L375.5,438.7 L376.0,437.9 L376.5,437.7 L377.0,436.2 L377.4,435.8 L377.9,431.6 L378.4,432.0 L378.9,429.9 L379.3,429.7 L379.8,429.2 L380.3,430.1 L380.7,427.6 L381.2,429.9 L381.7,428.5 L382.2,426.3 L382.7,423.7 L383.2,424.0 L383.7,422.2 L384.1,421.1 L384.6,420.6 L385.1,420.6 L385.5,422.3 L386.0,422.6 L386.5,422.4 L386.9,423.5 L387.4,425.8 L387.9,429.8 L388.4,433.9 L389.0,432.1 L389.5,433.2 L390.0,432.6 L390.5,431.7 L390.9,428.8 L391.4,426.1 L391.9,426.0 L392.4,425.0 L392.8,426.0 L393.3,427.0 L393.8,426.9 L394.3,427.2 L394.7,425.0 L395.2,425.9 L395.7,424.1 L396.2,424.0 L396.6,422.9 L397.1,422.2 L397.6,422.2 L398.1,421.2 L398.5,421.0 L399.0,419.0 L399.5,418.4 L400.0,418.4 L400.4,416.8 L400.9,415.3 L401.4,415.5 L401.9,414.9 L402.3,414.8 L402.8,411.8 L403.3,412.7 L403.8,411.9 L404.2,411.5 L404.7,412.6 L405.2,410.8 L405.6,412.9 L406.1,411.5 L406.5,413.9 L407.0,414.1 L407.4,413.6 L408.0,411.6 L408.5,411.2 L409.0,410.2 L409.4,409.5 L409.9,412.6 L410.4,412.6 L410.9,412.7 L411.3,413.1 L411.8,411.8 L412.3,410.4 L412.8,408.9 L413.2,410.2 L413.7,410.1 L414.2,408.9 L414.7,410.8 L415.1,410.4 L415.6,407.6 L416.1,407.4 L416.6,407.9 L417.0,409.2 L417.5,406.8 L418.0,407.2 L418.5,408.9 L418.9,406.3 L419.4,407.9 L419.9,404.2 L420.3,404.1 L420.8,401.7 L421.3,403.9 L421.8,400.6 L422.2,401.3 L422.8,403.8 L423.3,404.4 L423.8,405.1 L424.2,408.8 L424.6,411.8 L425.1,412.7 L425.6,412.0 L426.0,411.9 L426.5,408.2 L427.0,408.9 L427.5,411.5 L427.9,412.2 L428.4,414.6 L428.9,415.5 L429.4,413.4 L429.8,415.0 L430.3,415.0 L430.8,412.7 L431.3,409.9 L431.7,409.7 L432.2,409.4 L432.7,407.9 L433.2,409.6 L433.6,408.0 L434.1,408.2 L434.6,409.8 L435.0,408.2 L435.5,408.8 L436.0,408.6 L436.5,407.0 L436.9,406.8 L437.4,407.0 L437.9,407.3 L438.4,407.9 L438.8,405.7 L439.3,404.3 L439.8,401.5 L440.3,401.3 L440.7,400.8 L441.2,402.1 L441.7,399.6 L442.2,399.4 L442.6,400.0 L443.1,397.5 L443.6,399.1 L444.1,398.1 L444.5,398.8 L444.9,398.3 L445.4,397.5 L445.9,398.8 L446.4,400.0 L446.9,401.3 L447.4,402.8 L447.9,404.6 L448.3,402.9 L448.8,405.1 L449.3,405.8 L449.8,410.4 L450.3,411.7 L450.8,410.7 L451.2,406.7 L451.6,404.1 L452.1,403.5 L452.6,404.0 L453.1,401.6 L453.5,402.2 L454.0,403.0 L454.4,404.3 L454.9,407.0 L455.4,409.8 L455.9,411.4 L456.4,414.6 L456.9,412.3 L457.4,412.7 L457.9,410.8 L458.3,414.6 L458.8,414.5 L459.2,417.4 L459.7,419.1 L460.2,419.0 L460.7,421.5 L461.1,421.2 L461.6,422.2 L462.1,421.8 L462.6,422.3 L463.0,424.1 L463.5,420.1 L463.9,419.6 L464.4,417.4 L464.9,415.4 L465.4,413.1 L465.9,412.7 L466.3,411.7 L466.8,411.1 L467.3,412.2 L467.8,410.8 L468.2,409.5 L468.7,412.5 L469.2,410.7 L469.7,410.8 L470.1,412.1 L470.6,412.6 L471.1,414.8 L471.6,414.6 L472.0,416.0 L472.5,415.3 L473.0,415.2 L473.5,415.5 L473.9,416.6 L474.4,417.3 L474.9,415.9 L475.4,416.5 L475.8,417.1 L476.3,417.7 L476.8,415.6 L477.2,415.5 L477.8,413.0 L478.3,411.4 L478.8,410.8 L479.2,410.4 L479.7,409.0 L480.2,408.9 L480.7,406.0 L481.1,406.4 L481.6,403.2 L482.1,402.1 L482.6,402.2 L483.0,401.0 L483.5,400.4 L484.0,401.8 L484.5,400.7 L484.9,401.9 L485.4,402.0 L485.9,399.6 L486.4,400.3 L486.8,401.9 L487.3,400.2 L487.8,400.8 L488.3,401.3 L488.7,403.4 L489.1,402.3 L489.6,405.1 L490.1,404.8 L490.5,408.7 L491.0,407.9 L491.5,409.8 L491.9,409.1 L492.4,409.6 L492.9,409.8 L493.4,408.9 L493.8,407.8 L494.3,409.7 L494.8,410.8 L495.3,411.7 L495.7,412.9 L496.2,413.1 L496.7,415.6 L497.2,416.5 L497.6,419.3 L498.1,418.4 L498.6,420.2 L499.1,421.2 L499.5,419.4 L500.0,419.5 L500.5,420.4 L501.0,419.3 L501.4,420.4 L501.8,425.8 L502.3,426.9 L502.8,426.8 L503.3,422.3 L503.8,422.2 L504.3,423.0 L504.8,420.3 L505.2,421.0 L505.7,419.3 L506.2,421.8 L506.7,421.7 L507.2,424.1 L507.7,426.3 L508.1,427.8 L508.5,428.8 L509.0,431.1 L509.5,430.3 L510.0,433.3 L510.4,433.5 L510.9,436.4 L511.4,436.5 L511.9,437.2 L512.3,438.3 L512.8,437.8 L513.2,440.2 L513.7,441.1 L514.2,438.7 L514.7,438.1 L515.2,435.4 L515.7,435.8 L516.2,435.0 L516.7,434.5 L517.1,436.2 L517.6,440.7 L518.0,443.0 L518.5,442.3 L519.0,439.5 L519.5,440.9 L519.9,438.3 L520.4,437.4 L520.9,434.1 L521.3,435.6 L521.8,432.6 L522.3,431.1 L522.8,431.5 L523.2,432.7 L523.7,431.6 L524.2,431.7 L524.7,431.2 L525.1,431.2 L525.6,430.3 L526.1,431.2 L526.5,431.8 L526.9,433.5 L527.4,434.0 L528.0,435.1 L528.5,438.3 L528.9,439.8 L529.4,440.6 L529.9,440.6 L530.4,441.1 L530.8,442.1 L531.3,440.9 L531.8,440.7 L532.3,441.7 L532.7,441.8 L533.2,444.2 L533.7,441.8 L534.2,444.0 L534.6,444.2 L535.1,443.5 L535.6,445.7 L536.0,444.9 L536.5,444.9 L537.0,445.3 L537.5,446.0 L537.9,446.8 L538.5,445.1 L539.0,444.0 L539.5,441.1 L539.9,439.6 L540.4,440.5 L540.9,436.9 L541.4,437.3 L541.8,436.3 L542.3,435.4 L542.8,435.2 L543.3,436.4 L543.7,436.7 L544.2,435.8 L544.7,433.1 L545.2,433.5 L545.6,431.9 L546.1,432.3 L546.6,433.0 L547.0,431.6 L547.5,432.4 L548.0,431.9 L548.5,431.0 L548.9,430.3 L549.4,428.7 L549.9,429.2 L550.4,428.1 L550.8,428.8 L551.3,429.6 L551.8,430.5 L552.3,429.9 L552.7,431.6 L553.2,430.0 L553.7,431.2 L554.2,427.8 L554.6,428.8 L555.1,430.1 L555.6,430.7 L556.1,431.1 L556.5,429.7 L557.0,427.9 L557.5,427.1 L558.0,425.8 L558.4,424.1 L559.0,423.7 L559.5,424.1 L560.0,421.6 L560.5,422.7 L560.9,421.8 L561.4,424.3 L561.9,423.5 L562.4,425.3 L562.9,427.6 L563.4,429.1 L563.9,429.3 L564.4,425.9 L564.8,428.0 L565.3,426.3 L565.8,427.6 L566.3,427.7 L566.7,428.5 L567.2,429.1 L567.7,428.5 L568.2,427.1 L568.6,427.8 L569.1,427.2 L569.6,427.0 L570.1,430.1 L570.5,432.0 L571.0,432.9 L571.5,434.2 L571.9,436.0 L572.4,438.9 L572.9,438.6 L573.4,440.5 L573.8,438.3 L574.3,441.1 L574.8,440.5 L575.3,442.2 L575.7,441.3 L576.2,443.6 L576.7,445.3 L577.2,443.8 L577.6,442.8 L578.1,444.0 L578.6,443.4 L579.1,444.7 L579.5,442.3 L580.0,444.0 L580.5,442.4 L581.0,444.1 L581.4,443.0 L581.9,446.6 L582.4,446.2 L582.9,447.3 L583.3,449.2 L583.8,449.1 L584.3,449.1 L584.8,449.0 L585.2,446.6 L585.7,447.3 L586.2,445.3 L586.6,447.1 L587.1,447.0 L587.6,445.8 L588.1,446.2 L588.5,446.2 L589.0,444.3 L589.5,442.0 L590.0,442.4 L590.4,439.6 L590.9,438.5 L591.4,437.8 L591.9,437.7 L592.3,435.7 L592.8,436.2 L593.3,436.3 L593.8,434.8 L594.2,435.7 L594.7,436.0 L595.2,437.5 L595.7,437.7 L596.1,436.0 L596.6,435.7 L597.1,435.8 L597.6,433.9 L598.0,432.3 L598.5,430.4 L599.0,431.8 L599.5,429.1 L599.9,429.2 L600.4,427.2 L600.9,426.5 L601.3,426.3 L601.8,426.9 L602.3,427.6 L602.8,426.7 L603.2,428.2 L603.7,424.7 L604.2,423.8 L604.7,424.2 L605.1,421.6 L605.6,421.0 L606.1,422.8 L606.6,422.6 L607.0,424.4 L607.5,424.1 L608.0,424.6 L608.5,426.2 L608.9,427.2 L609.4,425.1 L609.9,423.7 L610.4,423.0 L610.8,423.5 L611.3,422.5 L611.8,423.9 L612.3,422.6 L612.7,424.4 L613.2,423.6 L613.7,426.1 L614.2,426.9 L614.6,428.2 L615.1,429.6 L615.6,428.0 L616.0,430.0 L616.5,431.0 L617.0,431.6 L617.5,431.2 L617.9,435.6 L618.4,434.8 L618.9,432.6 L619.4,431.0 L619.8,431.2 L620.3,430.1 L620.8,427.7 L621.3,428.2 L621.7,426.0 L622.2,425.4 L622.7,422.3 L623.2,420.4 L623.6,421.2 L624.1,418.7 L624.6,417.0 L625.1,417.9 L625.5,415.7 L626.0,414.9 L626.5,416.2 L627.0,413.7 L627.4,413.3 L627.9,414.0 L628.4,412.9 L628.9,414.6 L629.3,413.7 L629.8,413.0 L630.3,411.5 L630.7,409.7 L631.2,410.8 L631.7,409.2 L632.2,409.0 L632.6,405.8 L633.1,401.8 L633.6,401.6 L634.0,399.3 L634.5,398.9 L634.9,399.7 L635.4,400.8 L635.8,402.5 L636.2,406.4 L636.7,404.1 L637.2,405.5 L637.7,405.7 L638.1,403.5 L638.6,402.9 L639.1,406.2 L639.6,404.9 L640.0,405.4 L640.5,406.1 L641.0,406.0 L641.5,405.6 L641.9,403.5 L642.4,402.6 L642.9,404.3 L643.4,406.1 L643.8,406.4 L644.3,408.5 L644.8,405.9 L645.3,407.1 L645.7,408.3 L646.2,408.1 L646.7,404.1 L647.2,403.6 L647.6,402.6 L648.1,401.1 L648.6,401.5 L649.1,401.6 L649.5,399.2 L650.0,398.9 L650.5,401.7 L650.9,402.6 L651.4,402.6 L651.9,405.5 L652.4,406.1 L652.8,409.1 L653.3,409.2 L653.8,410.2 L654.3,411.8 L654.7,412.5 L655.2,414.9 L655.7,417.1 L656.2,417.2 L656.6,417.6 L657.1,419.7 L657.6,417.5 L658.1,418.6 L658.5,417.2 L659.0,415.9 L659.5,417.1 L660.0,416.4 L660.4,417.2 L660.9,417.8 L661.4,415.3 L661.9,416.2 L662.3,412.5 L662.8,413.0 L663.3,411.7 L663.8,411.6 L664.2,410.1 L664.7,408.3 L665.2,405.9 L665.6,405.4 L666.1,406.7 L666.6,404.5 L667.1,404.3 L667.5,404.4 L668.0,403.7 L668.5,401.6 L669.0,401.2 L669.4,402.6 L669.9,401.8 L670.4,400.7 L670.9,400.8 L671.3,401.7 L671.8,401.3 L672.3,403.5 L672.8,402.7 L673.2,404.2 L673.7,400.7 L674.2,401.6 L674.7,402.6 L675.1,401.7 L675.6,402.3 L676.1,404.5 L676.6,405.5 L677.0,404.5 L677.5,404.3 L678.0,406.4 L678.5,404.4 L678.9,405.5 L679.4,404.6 L679.9,403.5 L680.3,401.5 L680.8,402.1 L681.3,404.5 L681.8,402.6 L682.2,401.1 L682.7,401.9 L683.2,400.9 L683.7,400.7 L684.1,400.5 L684.6,398.7 L685.1,398.2 L685.6,396.0 L686.0,394.9 L686.5,392.5 L687.0,391.2 L687.5,391.2 L687.9,389.5 L688.4,391.9 L688.9,389.1 L689.4,390.3 L689.9,390.8 L690.4,396.4 L690.9,396.9 L691.4,392.7 L691.9,392.0 L692.4,387.4 L692.9,384.7 L693.3,384.9 L693.8,382.9 L694.3,382.7 L694.8,384.8 L695.2,385.0 L695.7,386.0 L696.2,386.5 L696.7,389.1 L697.1,391.1 L697.6,390.9 L698.1,393.1 L698.6,393.2 L699.0,392.4 L699.5,391.0 L700.0,392.2 L700.5,391.7 L700.9,389.2 L701.4,388.3 L701.9,385.5 L702.3,382.8 L702.8,382.3 L703.3,380.4 L703.8,378.9 L704.2,378.5 L704.7,375.0 L705.2,374.8 L705.7,374.1 L706.1,376.0 L706.6,376.4 L707.1,380.0 L707.6,381.7 L708.0,384.0 L708.5,384.3 L709.0,386.5 L709.5,387.4 L709.9,386.6 L710.4,384.0 L710.9,383.3 L711.4,382.7 L711.8,383.7 L712.3,380.7 L712.8,380.3 L713.3,379.8 L713.7,378.6 L714.2,379.3 L714.7,379.3 L715.2,380.8 L715.6,381.9 L716.1,380.6 L716.6,380.7 L717.0,378.9 L717.5,382.1 L718.0,382.1 L718.5,384.7 L718.9,384.6 L719.4,385.7 L719.9,386.2 L720.4,389.0 L720.8,388.4 L721.3,390.3 L721.8,390.9 L722.3,389.7 L722.7,390.3 L723.2,389.8 L723.7,387.1 L724.2,387.8 L724.6,384.6 L725.1,385.1 L725.6,381.9 L726.1,383.3 L726.5,380.8 L727.0,379.4 L727.5,378.9 L728.0,380.9 L728.4,379.8 L729.0,380.6 L729.5,383.0 L730.0,384.5 L730.5,390.0 L731.0,393.0 L731.5,399.7 L732.0,398.3 L732.4,394.4 L732.8,393.0 L733.3,394.9 L733.8,396.7 L734.3,400.3 L734.7,401.6 L735.2,404.8 L735.7,405.5 L736.2,407.2 L736.6,411.0 L737.1,412.2 L737.5,414.5 L738.0,416.7 L738.5,413.9 L739.0,413.0 L739.5,412.9 L740.0,417.4 L740.5,420.6 L741.0,423.4 L741.5,423.7 L741.9,422.3 L742.4,420.5 L742.9,417.7 L743.3,416.0 L743.8,413.9 L744.2,413.9 L744.7,414.4 L745.2,416.1 L745.6,417.5 L746.1,418.6 L746.6,419.5 L747.1,419.5 L747.5,422.0 L748.0,421.5 L748.5,421.0 L748.9,422.0 L749.3,422.4 L749.8,421.9 L750.3,419.7 L750.8,416.0 L751.2,414.8 L751.7,412.3 L752.2,412.6 L752.7,408.1 L753.1,408.2 L753.6,405.2 L754.1,405.0 L754.6,403.3 L755.0,401.6 L755.5,400.0 L756.0,399.3 L756.6,400.6 L757.0,400.7 L757.5,404.0 L758.0,404.0 L758.5,405.4 L758.9,406.1 L759.4,404.5 L759.9,404.2 L760.3,401.6 L760.8,400.6 L761.3,401.8 L761.8,401.9 L762.2,404.4 L762.7,403.4 L763.2,402.4 L763.7,400.7 L764.1,401.6 L764.6,400.1 L765.1,396.8 L765.6,395.9 L766.0,394.9 L766.5,393.1 L767.0,394.1 L767.5,391.8 L767.9,391.1 L768.4,391.2 L768.9,391.4 L769.4,393.7 L769.8,394.9 L770.3,394.7 L770.8,394.1 L771.3,394.3 L771.7,392.1 L772.2,393.1 L772.7,390.9 L773.2,391.7 L773.7,392.4 L774.2,396.6 L774.7,398.7 L775.1,399.7 L775.6,400.6 L776.1,402.8 L776.6,402.7 L777.0,403.5 L777.5,402.4 L778.0,401.8 L778.5,401.0 L778.9,402.5 L779.4,405.9 L779.8,409.6 L780.3,411.0 L780.7,415.0 L781.1,416.0 L781.6,418.6 L782.1,421.1 L782.6,424.0 L783.1,424.3 L783.6,424.0 L784.1,421.8 L784.5,419.7 L785.0,418.6 L785.5,418.0 L786.0,416.0 L786.4,415.4 L786.9,415.8 L787.4,415.9 L787.8,416.4 L788.3,414.2 L788.7,413.2 L789.2,412.9 L789.7,411.8 L790.1,411.6 L790.6,412.3 L791.1,410.7 L791.5,409.9 L792.0,411.1 L792.5,407.6 L793.0,408.2 L793.4,407.1 L793.9,407.3 L794.4,406.5 L794.9,406.3 L795.3,407.1 L795.8,406.5 L796.3,406.4 L796.8,404.4 L797.2,406.0 L797.7,405.1 L798.2,408.2 L798.7,409.1 L799.1,410.3 L799.6,411.0 L800.1,411.2 L800.6,412.9 L801.1,413.6 L801.5,414.3 L802.0,411.3 L802.5,413.2 L803.0,412.6 L803.5,412.4 L804.0,413.3 L804.4,415.0 L804.9,413.9 L805.4,417.0 L805.9,416.7 L806.3,416.2 L806.8,413.5 L807.3,415.1 L807.8,412.6 L808.2,410.8 L808.7,410.9 L809.2,411.9 L809.7,410.1 L810.1,408.7 L810.6,407.8 L811.0,409.4 L811.5,408.7 L811.9,406.3 L812.4,405.4 L812.9,405.4 L813.4,404.8 L813.8,405.4 L814.3,404.4 L814.8,405.2 L815.3,408.2 L815.7,406.9 L816.2,405.7 L816.7,406.6 L817.2,406.8 L817.6,408.2 L818.1,406.4 L818.6,407.6 L819.1,408.1 L819.5,406.9 L820.0,407.5 L820.5,406.1 L820.9,406.2 L821.4,404.4 L821.9,401.7 L822.4,401.7 L822.8,403.2 L823.3,400.6 L823.8,399.5 L824.3,400.7 L824.7,402.0 L825.2,402.5 L825.7,400.7 L826.2,400.8 L826.6,398.0 L827.1,398.7 L827.6,397.1 L828.1,398.9 L828.5,395.3 L829.0,395.9 L829.5,397.6 L830.0,395.2 L830.4,398.4 L830.9,396.8 L831.4,396.5 L831.9,395.4 L832.3,392.7 L832.8,393.0 L833.3,391.7 L833.8,394.4 L834.2,392.6 L834.7,394.0 L835.2,393.3 L835.6,396.1 L836.1,396.7 L836.6,395.9 L837.1,394.0 L837.5,397.1 L838.0,395.3 L838.5,394.9 L839.0,395.7 L839.4,395.9 L839.9,398.1 L840.4,399.7 L840.9,399.8 L841.3,395.6 L841.8,393.4 L842.3,393.0 L842.8,390.6 L843.2,389.3 L843.7,388.9 L844.2,388.3 L844.7,388.4 L845.1,383.9 L845.6,382.9 L846.1,382.6 L846.6,382.8 L847.0,381.5 L847.5,380.1 L848.0,376.9 L848.5,377.9 L848.9,380.2 L849.4,384.2 L849.9,384.5 L850.3,382.5 L850.8,381.4 L851.3,378.1 L851.8,376.9 L852.2,373.5 L852.7,373.0 L853.2,372.8 L853.7,370.3 L854.1,369.4 L854.6,366.7 L855.1,364.4 L855.6,362.7 L856.0,361.9 L856.5,360.6 L857.0,360.0 L857.5,358.9 L857.9,360.8 L858.4,359.2 L858.9,361.4 L859.4,361.7 L859.9,362.3 L860.4,361.1 L860.9,358.9 L861.3,358.2 L861.8,361.5 L862.3,361.5 L862.8,360.8 L863.3,362.1 L863.8,365.0 L864.3,368.4 L864.7,369.5 L865.2,371.2 L865.6,375.0 L866.1,378.9 L866.5,379.1 L866.9,381.6 L867.4,381.8 L867.9,377.9 L868.4,376.3 L868.8,376.9 L869.3,375.7 L869.9,372.9 L870.4,369.3 L870.9,368.9 L871.4,365.6 L871.9,362.7 L872.3,362.3 L872.8,362.7 L873.3,359.8 L873.8,360.8 L874.2,361.2 L874.7,361.0 L875.2,360.2 L875.7,361.7 L876.1,361.4 L876.6,359.7 L877.1,359.6 L877.6,358.9 L878.0,358.0 L878.5,357.3 L879.0,357.0 L879.5,357.0 L879.9,356.6 L880.4,357.3 L880.9,356.4 L881.4,354.1 L881.8,359.2 L882.2,362.9 L882.7,365.5 L883.2,367.1 L883.6,372.0 L884.1,371.8 L884.6,375.0 L885.1,374.4 L885.5,376.4 L886.0,378.0 L886.5,377.9 L886.9,376.3 L887.4,376.5 L887.8,375.0 L888.3,374.7 L888.8,377.6 L889.2,376.3 L889.7,376.9 L890.2,377.5 L890.7,378.4 L891.1,380.4 L891.6,379.7 L892.1,382.4 L892.6,381.7 L893.0,382.4 L893.5,383.5 L894.0,383.5 L894.4,381.0 L894.9,381.8 L895.4,381.6 L895.9,381.2 L896.3,379.3 L896.8,375.1 L897.3,375.0 L897.8,374.9 L898.2,371.7 L898.7,372.5 L899.2,369.3 L899.6,366.3 L900.0,364.3 L900.5,362.2 L900.9,362.2 L901.4,360.9 L902.0,360.1 L902.6,356.5 L903.2,361.9 L903.8,367.8 L904.3,372.0 L904.7,374.3 L905.2,376.5 L905.7,376.6 L906.1,376.9 L906.6,378.2 L907.2,375.6 L907.8,373.0 L908.4,371.5 L909.0,370.2 L909.5,369.5 L910.1,368.6 L910.7,368.0 L911.3,365.2 L911.9,368.5 L912.5,371.3 L912.9,368.8 L913.4,368.0 L913.9,367.8 L914.3,366.5 L914.8,366.5 L915.3,365.2 L915.9,366.9 L916.5,371.3 L917.1,373.2 L917.7,378.2 L918.1,379.3 L918.6,380.9 L919.1,383.4 L919.5,380.0 L920.0,380.1 L920.5,378.2 L921.1,382.3 L921.7,383.4 L922.3,387.0 L922.9,390.3 L923.3,391.8 L923.8,392.7 L924.3,392.1 L924.7,394.4 L925.2,395.9 L925.7,395.5 L926.3,393.2 L926.9,391.2 L927.4,390.4 L928.0,387.0 L928.6,386.9 L929.2,387.1 L929.8,384.1 L930.3,383.4 L930.9,384.2 L931.5,385.1 L932.0,383.7 L932.5,378.6 L932.9,376.5 L933.4,373.0 L933.9,373.0 L934.3,369.5 L934.9,366.4 L935.5,362.6 L936.1,359.7 L936.7,358.0 L937.3,358.3 L937.8,357.6 L938.4,356.2 L939.0,357.8 L939.6,359.4 L940.2,357.5 L940.7,359.1 L941.3,358.9 L941.9,359.9 L942.5,360.9 L943.1,367.4 L943.7,373.9 L944.1,372.2 L944.6,371.4 L945.1,369.5 L945.5,368.1 L946.0,365.3 L946.5,363.5 L947.1,358.1 L947.7,355.7 L948.2,358.6 L948.8,358.7 L949.4,359.1 L950.0,355.5 L950.6,354.8 L951.1,351.4 L951.5,349.4 L952.0,345.3 L952.5,343.9 L952.9,337.4 L953.4,335.7 L954.0,328.8 L954.6,325.3 L955.2,320.9 L955.8,316.7 L956.3,319.4 L956.9,322.7 L957.5,338.9 L958.1,352.2 L958.7,346.4 L959.3,338.3 L959.8,333.4 L960.3,329.7 L960.9,324.2 L961.5,319.3 L962.1,316.1 L962.8,312.3 L963.3,318.1 L963.8,321.0 L964.4,324.7 L965.0,330.5 L965.6,328.0 L966.2,326.2 L966.7,322.4 L967.1,322.1 L967.6,319.3 L968.1,316.1 L968.5,317.9 L969.0,314.9 L969.6,312.7 L970.1,310.6 L970.7,308.0 L971.3,311.3 L971.9,317.5 L972.5,322.6 L973.2,329.7 L973.7,327.0 L974.2,324.5 L974.8,318.8 L975.4,310.6 L976.0,313.3 L976.6,315.8 L977.1,317.3 L977.5,322.2 L978.0,322.7 L978.5,319.0 L978.9,314.2 L979.4,309.7 L980.0,312.6 L980.6,317.5 L981.2,318.1 L981.8,320.1 L982.3,326.3 L982.9,329.7 L983.6,348.7 L984.1,352.6 L984.6,359.1 L985.2,357.1 L985.8,354.8 L986.4,353.1 L987.0,350.5 L987.5,347.6 L987.9,346.8 L988.4,343.5 L988.9,343.3 L989.3,341.4 L989.8,338.3 L990.4,338.3 L991.0,336.6 L991.6,336.8 L992.2,339.2 L992.7,339.1 L993.1,341.9 L993.6,343.5 L994.0,348.1 L994.5,353.9 L995.1,358.0 L995.7,364.3 L996.2,363.9 L996.6,359.9 L997.1,359.1 L997.5,358.0 L998.0,356.1 L998.5,352.2 L999.1,348.2 L999.7,347.0 L1000.3,345.9 L1000.9,341.8 L1001.4,339.7 L1001.8,337.3 L1002.3,336.6 L1002.7,333.3 L1003.1,332.3 L1003.6,335.4 L1004.0,341.8 L1004.6,341.5 L1005.2,340.8 L1005.7,340.9 L1006.3,342.0 L1006.9,341.8 L1007.5,340.4 L1008.1,339.0 L1008.6,340.4 L1009.2,340.9 L1009.8,339.1 L1010.4,336.9 L1010.9,336.6 L1011.4,334.8 L1011.9,334.0 L1012.3,334.0 L1013.0,346.1 L1013.5,341.2 L1014.1,334.9 L1014.7,330.0 L1015.3,326.2 L1015.9,321.3 L1016.5,319.3 L1017.0,316.2 L1017.4,315.0 L1017.9,313.2 L1018.3,314.6 L1018.8,314.6 L1019.3,316.7 L1019.9,319.6 L1020.5,321.0 L1021.1,320.0 L1021.7,321.0 L1022.2,326.0 L1022.7,329.7 L1023.3,335.3 L1023.9,340.1 L1024.4,345.0 L1024.8,352.2 L1025.2,358.7 L1025.7,363.5 L1026.1,359.6 L1026.5,356.5 L1027.0,358.0 L1027.4,359.1 L1027.8,364.7 L1028.3,369.5 L1028.7,374.3 L1029.1,378.2 L1029.6,380.0 L1030.2,395.0 L1030.8,408.0 L1031.1,416.5 L1031.7,433.0 L1032.2,446.6 L1032.8,460.0 L1033.3,470.2 L1033.8,457.9 L1034.3,446.0 L1034.8,436.1 L1035.4,429.4 L1036.0,434.7 L1036.5,438.0 L1037.1,434.6 L1037.6,428.6 L1038.2,424.0 L1038.7,427.6 L1039.1,429.8 L1039.6,434.0 L1040.2,441.7 L1040.8,446.6 L1041.3,444.6 L1041.9,441.2" fill="none" stroke="#f6d9b4" stroke-opacity=".4" stroke-width="2.2" stroke-linejoin="round"/>
<path d="M224.2,422.5 L224.7,423.8 L225.2,427.1 L225.7,429.1 L226.2,430.3 L226.6,432.8 L227.1,434.6 L227.6,435.8 L228.1,433.9 L228.5,433.4 L229.0,436.0 L229.5,433.6 L230.0,433.2 L230.4,433.9 L230.9,438.5 L231.3,439.5 L231.8,442.4 L232.3,446.2 L232.8,447.4 L233.3,450.0 L233.8,453.4 L234.2,455.7 L234.7,452.5 L235.1,452.4 L235.6,450.0 L236.1,453.5 L236.6,454.5 L237.1,456.6 L237.5,455.9 L238.0,453.9 L238.5,450.1 L239.0,450.0 L239.4,448.1 L239.9,444.6 L240.4,440.8 L240.9,438.6 L241.4,435.4 L241.9,436.8 L242.4,433.9 L242.9,434.5 L243.3,436.1 L243.8,437.4 L244.3,436.7 L244.8,436.6 L245.2,436.5 L245.7,433.8 L246.2,433.3 L246.6,434.8 L247.1,433.9 L247.6,436.0 L248.1,434.8 L248.5,440.6 L249.0,442.2 L249.4,448.1 L249.9,448.0 L250.3,449.5 L250.8,453.3 L251.3,452.9 L251.8,453.8 L252.2,455.7 L252.7,455.7 L253.2,457.6 L253.7,459.3 L254.1,460.5 L254.6,462.0 L255.1,464.2 L255.6,463.6 L256.0,462.6 L256.5,462.8 L257.0,460.4 L257.5,460.1 L257.9,460.1 L258.4,458.9 L258.9,456.6 L259.4,458.2 L259.8,456.8 L260.3,454.7 L260.8,455.7 L261.3,457.5 L261.7,458.3 L262.2,458.6 L262.7,457.6 L263.2,457.4 L263.6,457.4 L264.1,455.1 L264.6,455.7 L265.0,456.7 L265.5,455.5 L266.0,454.2 L266.5,454.7 L266.9,454.6 L267.4,458.9 L267.9,460.8 L268.4,460.4 L268.8,459.9 L269.3,463.4 L269.8,463.0 L270.3,464.2 L270.7,464.4 L271.2,466.3 L271.7,469.5 L272.2,469.9 L272.6,472.0 L273.1,469.7 L273.6,472.5 L274.1,472.8 L274.5,470.4 L275.0,472.1 L275.5,470.0 L276.0,469.9 L276.4,470.6 L276.9,470.2 L277.4,467.8 L277.9,467.1 L278.3,468.7 L278.8,466.0 L279.3,465.0 L279.8,466.7 L280.3,466.1 L280.8,463.9 L281.2,463.9 L281.7,464.1 L282.1,464.2 L282.6,463.3 L283.1,463.9 L283.5,465.4 L284.0,470.3 L284.5,470.9 L285.0,470.7 L285.4,473.5 L285.9,473.7 L286.4,472.8 L286.9,472.3 L287.3,472.5 L287.8,472.6 L288.3,473.0 L288.8,472.8 L289.2,472.4 L289.7,472.6 L290.2,472.8 L290.7,474.0 L291.1,472.4 L291.6,472.1 L292.1,472.4 L292.6,474.7 L293.0,474.5 L293.5,476.2 L294.0,478.5 L294.5,482.7 L295.0,483.6 L295.5,486.0 L295.9,487.5 L296.4,486.8 L296.8,489.8 L297.3,488.6 L297.8,488.2 L298.2,485.3 L298.7,486.0 L299.2,488.4 L299.7,490.3 L300.1,490.1 L300.6,493.6 L301.1,495.5 L301.6,496.4 L302.0,498.5 L302.5,499.3 L303.0,499.7 L303.5,502.0 L303.9,503.0 L304.4,503.1 L304.8,498.2 L305.3,495.2 L305.7,493.6 L306.3,489.5 L306.9,484.1 L307.3,483.9 L307.8,479.5 L308.2,478.5 L308.7,478.1 L309.1,478.3 L309.6,477.1 L310.1,477.5 L310.6,477.2 L311.0,477.1 L311.5,477.5 L312.0,478.5 L312.5,477.6 L312.9,478.5 L313.4,477.8 L313.9,478.9 L314.4,476.0 L314.8,477.7 L315.3,478.0 L315.8,476.9 L316.3,476.7 L316.7,476.8 L317.2,479.3 L317.7,477.6 L318.2,477.9 L318.6,479.4 L319.1,479.3 L319.6,480.4 L320.1,478.4 L320.5,479.4 L321.0,479.6 L321.5,480.4 L321.9,483.0 L322.4,483.2 L322.9,480.8 L323.4,480.1 L323.9,476.6 L324.4,475.2 L324.9,475.6 L325.3,476.5 L325.8,477.2 L326.2,475.6 L326.7,471.2 L327.2,467.1 L327.6,465.6 L328.1,464.8 L328.6,465.8 L329.1,465.2 L329.5,463.4 L330.0,464.9 L330.5,464.3 L331.0,462.3 L331.4,460.4 L331.9,460.0 L332.4,461.1 L332.9,459.7 L333.3,459.5 L333.8,457.6 L334.3,458.0 L334.8,458.2 L335.2,459.7 L335.7,461.4 L336.2,463.9 L336.6,463.4 L337.1,465.1 L337.6,467.1 L338.1,468.0 L338.5,469.2 L339.0,470.3 L339.5,471.8 L340.0,474.5 L340.4,473.0 L340.9,473.6 L341.4,476.6 L341.9,479.6 L342.3,480.8 L342.8,482.6 L343.3,482.2 L343.8,483.9 L344.3,487.7 L344.8,487.9 L345.3,487.1 L345.8,482.2 L346.2,481.7 L346.7,478.5 L347.1,475.9 L347.6,471.5 L348.0,467.1 L348.5,467.0 L349.0,466.0 L349.5,466.0 L349.9,465.5 L350.4,464.7 L350.9,466.1 L351.3,466.4 L351.8,465.2 L352.3,467.0 L352.8,464.1 L353.2,467.1 L353.7,465.6 L354.2,467.3 L354.7,469.3 L355.1,470.3 L355.6,469.9 L356.1,472.3 L356.6,472.1 L357.0,471.0 L357.5,473.7 L358.0,475.8 L358.5,474.9 L358.9,476.6 L359.4,478.5 L359.9,476.9 L360.4,474.3 L360.8,471.7 L361.3,469.9 L361.8,469.4 L362.3,466.1 L362.7,462.9 L363.2,461.4 L363.7,460.7 L364.2,463.0 L364.6,461.8 L365.1,463.0 L365.6,461.6 L366.0,462.3 L366.6,457.8 L367.1,455.5 L367.6,451.9 L368.0,450.8 L368.5,446.3 L368.9,445.3 L369.4,447.0 L369.8,448.2 L370.3,448.5 L370.8,448.1 L371.3,448.3 L371.7,444.4 L372.2,445.7 L372.7,444.3 L373.2,444.4 L373.6,440.3 L374.1,439.9 L374.6,439.6 L375.1,438.3 L375.5,438.7 L376.0,437.9 L376.5,437.7 L377.0,436.2 L377.4,435.8 L377.9,431.6 L378.4,432.0 L378.9,429.9 L379.3,429.7 L379.8,429.2 L380.3,430.1 L380.7,427.6 L381.2,429.9 L381.7,428.5 L382.2,426.3 L382.7,423.7 L383.2,424.0 L383.7,422.2 L384.1,421.1 L384.6,420.6 L385.1,420.6 L385.5,422.3 L386.0,422.6 L386.5,422.4 L386.9,423.5 L387.4,425.8 L387.9,429.8 L388.4,433.9 L389.0,432.1 L389.5,433.2 L390.0,432.6 L390.5,431.7 L390.9,428.8 L391.4,426.1 L391.9,426.0 L392.4,425.0 L392.8,426.0 L393.3,427.0 L393.8,426.9 L394.3,427.2 L394.7,425.0 L395.2,425.9 L395.7,424.1 L396.2,424.0 L396.6,422.9 L397.1,422.2 L397.6,422.2 L398.1,421.2 L398.5,421.0 L399.0,419.0 L399.5,418.4 L400.0,418.4 L400.4,416.8 L400.9,415.3 L401.4,415.5 L401.9,414.9 L402.3,414.8 L402.8,411.8 L403.3,412.7 L403.8,411.9 L404.2,411.5 L404.7,412.6 L405.2,410.8 L405.6,412.9 L406.1,411.5 L406.5,413.9 L407.0,414.1 L407.4,413.6 L408.0,411.6 L408.5,411.2 L409.0,410.2 L409.4,409.5 L409.9,412.6 L410.4,412.6 L410.9,412.7 L411.3,413.1 L411.8,411.8 L412.3,410.4 L412.8,408.9 L413.2,410.2 L413.7,410.1 L414.2,408.9 L414.7,410.8 L415.1,410.4 L415.6,407.6 L416.1,407.4 L416.6,407.9 L417.0,409.2 L417.5,406.8 L418.0,407.2 L418.5,408.9 L418.9,406.3 L419.4,407.9 L419.9,404.2 L420.3,404.1 L420.8,401.7 L421.3,403.9 L421.8,400.6 L422.2,401.3 L422.8,403.8 L423.3,404.4 L423.8,405.1 L424.2,408.8 L424.6,411.8 L425.1,412.7 L425.6,412.0 L426.0,411.9 L426.5,408.2 L427.0,408.9 L427.5,411.5 L427.9,412.2 L428.4,414.6 L428.9,415.5 L429.4,413.4 L429.8,415.0 L430.3,415.0 L430.8,412.7 L431.3,409.9 L431.7,409.7 L432.2,409.4 L432.7,407.9 L433.2,409.6 L433.6,408.0 L434.1,408.2 L434.6,409.8 L435.0,408.2 L435.5,408.8 L436.0,408.6 L436.5,407.0 L436.9,406.8 L437.4,407.0 L437.9,407.3 L438.4,407.9 L438.8,405.7 L439.3,404.3 L439.8,401.5 L440.3,401.3 L440.7,400.8 L441.2,402.1 L441.7,399.6 L442.2,399.4 L442.6,400.0 L443.1,397.5 L443.6,399.1 L444.1,398.1 L444.5,398.8 L444.9,398.3 L445.4,397.5 L445.9,398.8 L446.4,400.0 L446.9,401.3 L447.4,402.8 L447.9,404.6 L448.3,402.9 L448.8,405.1 L449.3,405.8 L449.8,410.4 L450.3,411.7 L450.8,410.7 L451.2,406.7 L451.6,404.1 L452.1,403.5 L452.6,404.0 L453.1,401.6 L453.5,402.2 L454.0,403.0 L454.4,404.3 L454.9,407.0 L455.4,409.8 L455.9,411.4 L456.4,414.6 L456.9,412.3 L457.4,412.7 L457.9,410.8 L458.3,414.6 L458.8,414.5 L459.2,417.4 L459.7,419.1 L460.2,419.0 L460.7,421.5 L461.1,421.2 L461.6,422.2 L462.1,421.8 L462.6,422.3 L463.0,424.1 L463.5,420.1 L463.9,419.6 L464.4,417.4 L464.9,415.4 L465.4,413.1 L465.9,412.7 L466.3,411.7 L466.8,411.1 L467.3,412.2 L467.8,410.8 L468.2,409.5 L468.7,412.5 L469.2,410.7 L469.7,410.8 L470.1,412.1 L470.6,412.6 L471.1,414.8 L471.6,414.6 L472.0,416.0 L472.5,415.3 L473.0,415.2 L473.5,415.5 L473.9,416.6 L474.4,417.3 L474.9,415.9 L475.4,416.5 L475.8,417.1 L476.3,417.7 L476.8,415.6 L477.2,415.5 L477.8,413.0 L478.3,411.4 L478.8,410.8 L479.2,410.4 L479.7,409.0 L480.2,408.9 L480.7,406.0 L481.1,406.4 L481.6,403.2 L482.1,402.1 L482.6,402.2 L483.0,401.0 L483.5,400.4 L484.0,401.8 L484.5,400.7 L484.9,401.9 L485.4,402.0 L485.9,399.6 L486.4,400.3 L486.8,401.9 L487.3,400.2 L487.8,400.8 L488.3,401.3 L488.7,403.4 L489.1,402.3 L489.6,405.1 L490.1,404.8 L490.5,408.7 L491.0,407.9 L491.5,409.8 L491.9,409.1 L492.4,409.6 L492.9,409.8 L493.4,408.9 L493.8,407.8 L494.3,409.7 L494.8,410.8 L495.3,411.7 L495.7,412.9 L496.2,413.1 L496.7,415.6 L497.2,416.5 L497.6,419.3 L498.1,418.4 L498.6,420.2 L499.1,421.2 L499.5,419.4 L500.0,419.5 L500.5,420.4 L501.0,419.3 L501.4,420.4 L501.8,425.8 L502.3,426.9 L502.8,426.8 L503.3,422.3 L503.8,422.2 L504.3,423.0 L504.8,420.3 L505.2,421.0 L505.7,419.3 L506.2,421.8 L506.7,421.7 L507.2,424.1 L507.7,426.3 L508.1,427.8 L508.5,428.8 L509.0,431.1 L509.5,430.3 L510.0,433.3 L510.4,433.5 L510.9,436.4 L511.4,436.5 L511.9,437.2 L512.3,438.3 L512.8,437.8 L513.2,440.2 L513.7,441.1 L514.2,438.7 L514.7,438.1 L515.2,435.4 L515.7,435.8 L516.2,435.0 L516.7,434.5 L517.1,436.2 L517.6,440.7 L518.0,443.0 L518.5,442.3 L519.0,439.5 L519.5,440.9 L519.9,438.3 L520.4,437.4 L520.9,434.1 L521.3,435.6 L521.8,432.6 L522.3,431.1 L522.8,431.5 L523.2,432.7 L523.7,431.6 L524.2,431.7 L524.7,431.2 L525.1,431.2 L525.6,430.3 L526.1,431.2 L526.5,431.8 L526.9,433.5 L527.4,434.0 L528.0,435.1 L528.5,438.3 L528.9,439.8 L529.4,440.6 L529.9,440.6 L530.4,441.1 L530.8,442.1 L531.3,440.9 L531.8,440.7 L532.3,441.7 L532.7,441.8 L533.2,444.2 L533.7,441.8 L534.2,444.0 L534.6,444.2 L535.1,443.5 L535.6,445.7 L536.0,444.9 L536.5,444.9 L537.0,445.3 L537.5,446.0 L537.9,446.8 L538.5,445.1 L539.0,444.0 L539.5,441.1 L539.9,439.6 L540.4,440.5 L540.9,436.9 L541.4,437.3 L541.8,436.3 L542.3,435.4 L542.8,435.2 L543.3,436.4 L543.7,436.7 L544.2,435.8 L544.7,433.1 L545.2,433.5 L545.6,431.9 L546.1,432.3 L546.6,433.0 L547.0,431.6 L547.5,432.4 L548.0,431.9 L548.5,431.0 L548.9,430.3 L549.4,428.7 L549.9,429.2 L550.4,428.1 L550.8,428.8 L551.3,429.6 L551.8,430.5 L552.3,429.9 L552.7,431.6 L553.2,430.0 L553.7,431.2 L554.2,427.8 L554.6,428.8 L555.1,430.1 L555.6,430.7 L556.1,431.1 L556.5,429.7 L557.0,427.9 L557.5,427.1 L558.0,425.8 L558.4,424.1 L559.0,423.7 L559.5,424.1 L560.0,421.6 L560.5,422.7 L560.9,421.8 L561.4,424.3 L561.9,423.5 L562.4,425.3 L562.9,427.6 L563.4,429.1 L563.9,429.3 L564.4,425.9 L564.8,428.0 L565.3,426.3 L565.8,427.6 L566.3,427.7 L566.7,428.5 L567.2,429.1 L567.7,428.5 L568.2,427.1 L568.6,427.8 L569.1,427.2 L569.6,427.0 L570.1,430.1 L570.5,432.0 L571.0,432.9 L571.5,434.2 L571.9,436.0 L572.4,438.9 L572.9,438.6 L573.4,440.5 L573.8,438.3 L574.3,441.1 L574.8,440.5 L575.3,442.2 L575.7,441.3 L576.2,443.6 L576.7,445.3 L577.2,443.8 L577.6,442.8 L578.1,444.0 L578.6,443.4 L579.1,444.7 L579.5,442.3 L580.0,444.0 L580.5,442.4 L581.0,444.1 L581.4,443.0 L581.9,446.6 L582.4,446.2 L582.9,447.3 L583.3,449.2 L583.8,449.1 L584.3,449.1 L584.8,449.0 L585.2,446.6 L585.7,447.3 L586.2,445.3 L586.6,447.1 L587.1,447.0 L587.6,445.8 L588.1,446.2 L588.5,446.2 L589.0,444.3 L589.5,442.0 L590.0,442.4 L590.4,439.6 L590.9,438.5 L591.4,437.8 L591.9,437.7 L592.3,435.7 L592.8,436.2 L593.3,436.3 L593.8,434.8 L594.2,435.7 L594.7,436.0 L595.2,437.5 L595.7,437.7 L596.1,436.0 L596.6,435.7 L597.1,435.8 L597.6,433.9 L598.0,432.3 L598.5,430.4 L599.0,431.8 L599.5,429.1 L599.9,429.2 L600.4,427.2 L600.9,426.5 L601.3,426.3 L601.8,426.9 L602.3,427.6 L602.8,426.7 L603.2,428.2 L603.7,424.7 L604.2,423.8 L604.7,424.2 L605.1,421.6 L605.6,421.0 L606.1,422.8 L606.6,422.6 L607.0,424.4 L607.5,424.1 L608.0,424.6 L608.5,426.2 L608.9,427.2 L609.4,425.1 L609.9,423.7 L610.4,423.0 L610.8,423.5 L611.3,422.5 L611.8,423.9 L612.3,422.6 L612.7,424.4 L613.2,423.6 L613.7,426.1 L614.2,426.9 L614.6,428.2 L615.1,429.6 L615.6,428.0 L616.0,430.0 L616.5,431.0 L617.0,431.6 L617.5,431.2 L617.9,435.6 L618.4,434.8 L618.9,432.6 L619.4,431.0 L619.8,431.2 L620.3,430.1 L620.8,427.7 L621.3,428.2 L621.7,426.0 L622.2,425.4 L622.7,422.3 L623.2,420.4 L623.6,421.2 L624.1,418.7 L624.6,417.0 L625.1,417.9 L625.5,415.7 L626.0,414.9 L626.5,416.2 L627.0,413.7 L627.4,413.3 L627.9,414.0 L628.4,412.9 L628.9,414.6 L629.3,413.7 L629.8,413.0 L630.3,411.5 L630.7,409.7 L631.2,410.8 L631.7,409.2 L632.2,409.0 L632.6,405.8 L633.1,401.8 L633.6,401.6 L634.0,399.3 L634.5,398.9 L634.9,399.7 L635.4,400.8 L635.8,402.5 L636.2,406.4 L636.7,404.1 L637.2,405.5 L637.7,405.7 L638.1,403.5 L638.6,402.9 L639.1,406.2 L639.6,404.9 L640.0,405.4 L640.5,406.1 L641.0,406.0 L641.5,405.6 L641.9,403.5 L642.4,402.6 L642.9,404.3 L643.4,406.1 L643.8,406.4 L644.3,408.5 L644.8,405.9 L645.3,407.1 L645.7,408.3 L646.2,408.1 L646.7,404.1 L647.2,403.6 L647.6,402.6 L648.1,401.1 L648.6,401.5 L649.1,401.6 L649.5,399.2 L650.0,398.9 L650.5,401.7 L650.9,402.6 L651.4,402.6 L651.9,405.5 L652.4,406.1 L652.8,409.1 L653.3,409.2 L653.8,410.2 L654.3,411.8 L654.7,412.5 L655.2,414.9 L655.7,417.1 L656.2,417.2 L656.6,417.6 L657.1,419.7 L657.6,417.5 L658.1,418.6 L658.5,417.2 L659.0,415.9 L659.5,417.1 L660.0,416.4 L660.4,417.2 L660.9,417.8 L661.4,415.3 L661.9,416.2 L662.3,412.5 L662.8,413.0 L663.3,411.7 L663.8,411.6 L664.2,410.1 L664.7,408.3 L665.2,405.9 L665.6,405.4 L666.1,406.7 L666.6,404.5 L667.1,404.3 L667.5,404.4 L668.0,403.7 L668.5,401.6 L669.0,401.2 L669.4,402.6 L669.9,401.8 L670.4,400.7 L670.9,400.8 L671.3,401.7 L671.8,401.3 L672.3,403.5 L672.8,402.7 L673.2,404.2 L673.7,400.7 L674.2,401.6 L674.7,402.6 L675.1,401.7 L675.6,402.3 L676.1,404.5 L676.6,405.5 L677.0,404.5 L677.5,404.3 L678.0,406.4 L678.5,404.4 L678.9,405.5 L679.4,404.6 L679.9,403.5 L680.3,401.5 L680.8,402.1 L681.3,404.5 L681.8,402.6 L682.2,401.1 L682.7,401.9 L683.2,400.9 L683.7,400.7 L684.1,400.5 L684.6,398.7 L685.1,398.2 L685.6,396.0 L686.0,394.9 L686.5,392.5 L687.0,391.2 L687.5,391.2 L687.9,389.5 L688.4,391.9 L688.9,389.1 L689.4,390.3 L689.9,390.8 L690.4,396.4 L690.9,396.9 L691.4,392.7 L691.9,392.0 L692.4,387.4 L692.9,384.7 L693.3,384.9 L693.8,382.9 L694.3,382.7 L694.8,384.8 L695.2,385.0 L695.7,386.0 L696.2,386.5 L696.7,389.1 L697.1,391.1 L697.6,390.9 L698.1,393.1 L698.6,393.2 L699.0,392.4 L699.5,391.0 L700.0,392.2 L700.5,391.7 L700.9,389.2 L701.4,388.3 L701.9,385.5 L702.3,382.8 L702.8,382.3 L703.3,380.4 L703.8,378.9 L704.2,378.5 L704.7,375.0 L705.2,374.8 L705.7,374.1 L706.1,376.0 L706.6,376.4 L707.1,380.0 L707.6,381.7 L708.0,384.0 L708.5,384.3 L709.0,386.5 L709.5,387.4 L709.9,386.6 L710.4,384.0 L710.9,383.3 L711.4,382.7 L711.8,383.7 L712.3,380.7 L712.8,380.3 L713.3,379.8 L713.7,378.6 L714.2,379.3 L714.7,379.3 L715.2,380.8 L715.6,381.9 L716.1,380.6 L716.6,380.7 L717.0,378.9 L717.5,382.1 L718.0,382.1 L718.5,384.7 L718.9,384.6 L719.4,385.7 L719.9,386.2 L720.4,389.0 L720.8,388.4 L721.3,390.3 L721.8,390.9 L722.3,389.7 L722.7,390.3 L723.2,389.8 L723.7,387.1 L724.2,387.8 L724.6,384.6 L725.1,385.1 L725.6,381.9 L726.1,383.3 L726.5,380.8 L727.0,379.4 L727.5,378.9 L728.0,380.9 L728.4,379.8 L729.0,380.6 L729.5,383.0 L730.0,384.5 L730.5,390.0 L731.0,393.0 L731.5,399.7 L732.0,398.3 L732.4,394.4 L732.8,393.0 L733.3,394.9 L733.8,396.7 L734.3,400.3 L734.7,401.6 L735.2,404.8 L735.7,405.5 L736.2,407.2 L736.6,411.0 L737.1,412.2 L737.5,414.5 L738.0,416.7 L738.5,413.9 L739.0,413.0 L739.5,412.9 L740.0,417.4 L740.5,420.6 L741.0,423.4 L741.5,423.7 L741.9,422.3 L742.4,420.5 L742.9,417.7 L743.3,416.0 L743.8,413.9 L744.2,413.9 L744.7,414.4 L745.2,416.1 L745.6,417.5 L746.1,418.6 L746.6,419.5 L747.1,419.5 L747.5,422.0 L748.0,421.5 L748.5,421.0 L748.9,422.0 L749.3,422.4 L749.8,421.9 L750.3,419.7 L750.8,416.0 L751.2,414.8 L751.7,412.3 L752.2,412.6 L752.7,408.1 L753.1,408.2 L753.6,405.2 L754.1,405.0 L754.6,403.3 L755.0,401.6 L755.5,400.0 L756.0,399.3 L756.6,400.6 L757.0,400.7 L757.5,404.0 L758.0,404.0 L758.5,405.4 L758.9,406.1 L759.4,404.5 L759.9,404.2 L760.3,401.6 L760.8,400.6 L761.3,401.8 L761.8,401.9 L762.2,404.4 L762.7,403.4 L763.2,402.4 L763.7,400.7 L764.1,401.6 L764.6,400.1 L765.1,396.8 L765.6,395.9 L766.0,394.9 L766.5,393.1 L767.0,394.1 L767.5,391.8 L767.9,391.1 L768.4,391.2 L768.9,391.4 L769.4,393.7 L769.8,394.9 L770.3,394.7 L770.8,394.1 L771.3,394.3 L771.7,392.1 L772.2,393.1 L772.7,390.9 L773.2,391.7 L773.7,392.4 L774.2,396.6 L774.7,398.7 L775.1,399.7 L775.6,400.6 L776.1,402.8 L776.6,402.7 L777.0,403.5 L777.5,402.4 L778.0,401.8 L778.5,401.0 L778.9,402.5 L779.4,405.9 L779.8,409.6 L780.3,411.0 L780.7,415.0 L781.1,416.0 L781.6,418.6 L782.1,421.1 L782.6,424.0 L783.1,424.3 L783.6,424.0 L784.1,421.8 L784.5,419.7 L785.0,418.6 L785.5,418.0 L786.0,416.0 L786.4,415.4 L786.9,415.8 L787.4,415.9 L787.8,416.4 L788.3,414.2 L788.7,413.2 L789.2,412.9 L789.7,411.8 L790.1,411.6 L790.6,412.3 L791.1,410.7 L791.5,409.9 L792.0,411.1 L792.5,407.6 L793.0,408.2 L793.4,407.1 L793.9,407.3 L794.4,406.5 L794.9,406.3 L795.3,407.1 L795.8,406.5 L796.3,406.4 L796.8,404.4 L797.2,406.0 L797.7,405.1 L798.2,408.2 L798.7,409.1 L799.1,410.3 L799.6,411.0 L800.1,411.2 L800.6,412.9 L801.1,413.6 L801.5,414.3 L802.0,411.3 L802.5,413.2 L803.0,412.6 L803.5,412.4 L804.0,413.3 L804.4,415.0 L804.9,413.9 L805.4,417.0 L805.9,416.7 L806.3,416.2 L806.8,413.5 L807.3,415.1 L807.8,412.6 L808.2,410.8 L808.7,410.9 L809.2,411.9 L809.7,410.1 L810.1,408.7 L810.6,407.8 L811.0,409.4 L811.5,408.7 L811.9,406.3 L812.4,405.4 L812.9,405.4 L813.4,404.8 L813.8,405.4 L814.3,404.4 L814.8,405.2 L815.3,408.2 L815.7,406.9 L816.2,405.7 L816.7,406.6 L817.2,406.8 L817.6,408.2 L818.1,406.4 L818.6,407.6 L819.1,408.1 L819.5,406.9 L820.0,407.5 L820.5,406.1 L820.9,406.2 L821.4,404.4 L821.9,401.7 L822.4,401.7 L822.8,403.2 L823.3,400.6 L823.8,399.5 L824.3,400.7 L824.7,402.0 L825.2,402.5 L825.7,400.7 L826.2,400.8 L826.6,398.0 L827.1,398.7 L827.6,397.1 L828.1,398.9 L828.5,395.3 L829.0,395.9 L829.5,397.6 L830.0,395.2 L830.4,398.4 L830.9,396.8 L831.4,396.5 L831.9,395.4 L832.3,392.7 L832.8,393.0 L833.3,391.7 L833.8,394.4 L834.2,392.6 L834.7,394.0 L835.2,393.3 L835.6,396.1 L836.1,396.7 L836.6,395.9 L837.1,394.0 L837.5,397.1 L838.0,395.3 L838.5,394.9 L839.0,395.7 L839.4,395.9 L839.9,398.1 L840.4,399.7 L840.9,399.8 L841.3,395.6 L841.8,393.4 L842.3,393.0 L842.8,390.6 L843.2,389.3 L843.7,388.9 L844.2,388.3 L844.7,388.4 L845.1,383.9 L845.6,382.9 L846.1,382.6 L846.6,382.8 L847.0,381.5 L847.5,380.1 L848.0,376.9 L848.5,377.9 L848.9,380.2 L849.4,384.2 L849.9,384.5 L850.3,382.5 L850.8,381.4 L851.3,378.1 L851.8,376.9 L852.2,373.5 L852.7,373.0 L853.2,372.8 L853.7,370.3 L854.1,369.4 L854.6,366.7 L855.1,364.4 L855.6,362.7 L856.0,361.9 L856.5,360.6 L857.0,360.0 L857.5,358.9 L857.9,360.8 L858.4,359.2 L858.9,361.4 L859.4,361.7 L859.9,362.3 L860.4,361.1 L860.9,358.9 L861.3,358.2 L861.8,361.5 L862.3,361.5 L862.8,360.8 L863.3,362.1 L863.8,365.0 L864.3,368.4 L864.7,369.5 L865.2,371.2 L865.6,375.0 L866.1,378.9 L866.5,379.1 L866.9,381.6 L867.4,381.8 L867.9,377.9 L868.4,376.3 L868.8,376.9 L869.3,375.7 L869.9,372.9 L870.4,369.3 L870.9,368.9 L871.4,365.6 L871.9,362.7 L872.3,362.3 L872.8,362.7 L873.3,359.8 L873.8,360.8 L874.2,361.2 L874.7,361.0 L875.2,360.2 L875.7,361.7 L876.1,361.4 L876.6,359.7 L877.1,359.6 L877.6,358.9 L878.0,358.0 L878.5,357.3 L879.0,357.0 L879.5,357.0 L879.9,356.6 L880.4,357.3 L880.9,356.4 L881.4,354.1 L881.8,359.2 L882.2,362.9 L882.7,365.5 L883.2,367.1 L883.6,372.0 L884.1,371.8 L884.6,375.0 L885.1,374.4 L885.5,376.4 L886.0,378.0 L886.5,377.9 L886.9,376.3 L887.4,376.5 L887.8,375.0 L888.3,374.7 L888.8,377.6 L889.2,376.3 L889.7,376.9 L890.2,377.5 L890.7,378.4 L891.1,380.4 L891.6,379.7 L892.1,382.4 L892.6,381.7 L893.0,382.4 L893.5,383.5 L894.0,383.5 L894.4,381.0 L894.9,381.8 L895.4,381.6 L895.9,381.2 L896.3,379.3 L896.8,375.1 L897.3,375.0 L897.8,374.9 L898.2,371.7 L898.7,372.5 L899.2,369.3 L899.6,366.3 L900.0,364.3 L900.5,362.2 L900.9,362.2 L901.4,360.9 L902.0,360.1 L902.6,356.5 L903.2,361.9 L903.8,367.8 L904.3,372.0 L904.7,374.3 L905.2,376.5 L905.7,376.6 L906.1,376.9 L906.6,378.2 L907.2,375.6 L907.8,373.0 L908.4,371.5 L909.0,370.2 L909.5,369.5 L910.1,368.6 L910.7,368.0 L911.3,365.2 L911.9,368.5 L912.5,371.3 L912.9,368.8 L913.4,368.0 L913.9,367.8 L914.3,366.5 L914.8,366.5 L915.3,365.2 L915.9,366.9 L916.5,371.3 L917.1,373.2 L917.7,378.2 L918.1,379.3 L918.6,380.9 L919.1,383.4 L919.5,380.0 L920.0,380.1 L920.5,378.2 L921.1,382.3 L921.7,383.4 L922.3,387.0 L922.9,390.3 L923.3,391.8 L923.8,392.7 L924.3,392.1 L924.7,394.4 L925.2,395.9 L925.7,395.5 L926.3,393.2 L926.9,391.2 L927.4,390.4 L928.0,387.0 L928.6,386.9 L929.2,387.1 L929.8,384.1 L930.3,383.4 L930.9,384.2 L931.5,385.1 L932.0,383.7 L932.5,378.6 L932.9,376.5 L933.4,373.0 L933.9,373.0 L934.3,369.5 L934.9,366.4 L935.5,362.6 L936.1,359.7 L936.7,358.0 L937.3,358.3 L937.8,357.6 L938.4,356.2 L939.0,357.8 L939.6,359.4 L940.2,357.5 L940.7,359.1 L941.3,358.9 L941.9,359.9 L942.5,360.9 L943.1,367.4 L943.7,373.9 L944.1,372.2 L944.6,371.4 L945.1,369.5 L945.5,368.1 L946.0,365.3 L946.5,363.5 L947.1,358.1 L947.7,355.7 L948.2,358.6 L948.8,358.7 L949.4,359.1 L950.0,355.5 L950.6,354.8 L951.1,351.4 L951.5,349.4 L952.0,345.3 L952.5,343.9 L952.9,337.4 L953.4,335.7 L954.0,328.8 L954.6,325.3 L955.2,320.9 L955.8,316.7 L956.3,319.4 L956.9,322.7 L957.5,338.9 L958.1,352.2 L958.7,346.4 L959.3,338.3 L959.8,333.4 L960.3,329.7 L960.9,324.2 L961.5,319.3 L962.1,316.1 L962.8,312.3 L963.3,318.1 L963.8,321.0 L964.4,324.7 L965.0,330.5 L965.6,328.0 L966.2,326.2 L966.7,322.4 L967.1,322.1 L967.6,319.3 L968.1,316.1 L968.5,317.9 L969.0,314.9 L969.6,312.7 L970.1,310.6 L970.7,308.0 L971.3,311.3 L971.9,317.5 L972.5,322.6 L973.2,329.7 L973.7,327.0 L974.2,324.5 L974.8,318.8 L975.4,310.6 L976.0,313.3 L976.6,315.8 L977.1,317.3 L977.5,322.2 L978.0,322.7 L978.5,319.0 L978.9,314.2 L979.4,309.7 L980.0,312.6 L980.6,317.5 L981.2,318.1 L981.8,320.1 L982.3,326.3 L982.9,329.7 L983.6,348.7 L984.1,352.6 L984.6,359.1 L985.2,357.1 L985.8,354.8 L986.4,353.1 L987.0,350.5 L987.5,347.6 L987.9,346.8 L988.4,343.5 L988.9,343.3 L989.3,341.4 L989.8,338.3 L990.4,338.3 L991.0,336.6 L991.6,336.8 L992.2,339.2 L992.7,339.1 L993.1,341.9 L993.6,343.5 L994.0,348.1 L994.5,353.9 L995.1,358.0 L995.7,364.3 L996.2,363.9 L996.6,359.9 L997.1,359.1 L997.5,358.0 L998.0,356.1 L998.5,352.2 L999.1,348.2 L999.7,347.0 L1000.3,345.9 L1000.9,341.8 L1001.4,339.7 L1001.8,337.3 L1002.3,336.6 L1002.7,333.3 L1003.1,332.3 L1003.6,335.4 L1004.0,341.8 L1004.6,341.5 L1005.2,340.8 L1005.7,340.9 L1006.3,342.0 L1006.9,341.8 L1007.5,340.4 L1008.1,339.0 L1008.6,340.4 L1009.2,340.9 L1009.8,339.1 L1010.4,336.9 L1010.9,336.6 L1011.4,334.8 L1011.9,334.0 L1012.3,334.0 L1013.0,346.1 L1013.5,341.2 L1014.1,334.9 L1014.7,330.0 L1015.3,326.2 L1015.9,321.3 L1016.5,319.3 L1017.0,316.2 L1017.4,315.0 L1017.9,313.2 L1018.3,314.6 L1018.8,314.6 L1019.3,316.7 L1019.9,319.6 L1020.5,321.0 L1021.1,320.0 L1021.7,321.0 L1022.2,326.0 L1022.7,329.7 L1023.3,335.3 L1023.9,340.1 L1024.4,345.0 L1024.8,352.2 L1025.2,358.7 L1025.7,363.5 L1026.1,359.6 L1026.5,356.5 L1027.0,358.0 L1027.4,359.1 L1027.8,364.7 L1028.3,369.5 L1028.7,374.3 L1029.1,378.2 L1029.6,380.0 L1030.2,395.0 L1030.8,408.0 L1031.1,416.5 L1031.7,433.0 L1032.2,446.6 L1032.8,460.0 L1033.3,470.2 L1033.8,457.9 L1034.3,446.0 L1034.8,436.1 L1035.4,429.4 L1036.0,434.7 L1036.5,438.0 L1037.1,434.6 L1037.6,428.6 L1038.2,424.0 L1038.7,427.6 L1039.1,429.8 L1039.6,434.0 L1040.2,441.7 L1040.8,446.6 L1041.3,444.6 L1041.9,441.2" fill="none" stroke="#ee9f4c" stroke-width="1" stroke-linejoin="round"/>
<path d="M224.5,270.4 L225.0,271.4 L225.4,272.4 L225.9,274.9 L226.4,276.8 L226.9,276.6 L227.4,279.3 L227.9,279.3 L228.4,278.7 L228.9,277.7 L229.4,278.8 L229.9,277.4 L230.4,278.6 L230.9,280.6 L231.4,281.8 L231.9,285.3 L232.4,286.6 L232.9,290.0 L233.4,292.7 L234.1,297.1 L234.9,294.2 L235.4,296.6 L235.8,296.1 L236.3,298.6 L236.8,296.9 L237.3,297.0 L237.8,295.7 L238.3,294.9 L238.8,291.9 L239.3,289.7 L239.9,287.2 L240.4,286.6 L241.0,281.8 L241.5,280.8 L242.3,278.6 L242.8,280.8 L243.3,280.5 L243.8,282.3 L244.3,279.8 L244.8,278.2 L245.3,277.8 L245.8,277.0 L246.4,278.1 L246.9,276.0 L247.5,276.6 L248.2,280.8 L248.7,283.8 L249.2,286.6 L249.7,289.0 L250.2,289.9 L250.7,291.6 L251.2,292.7 L251.8,292.4 L252.3,293.3 L252.9,294.6 L253.4,296.4 L254.0,298.6 L254.5,299.5 L255.1,300.9 L255.7,303.1 L256.1,301.8 L256.6,300.0 L257.1,298.6 L257.6,297.1 L258.1,297.5 L258.6,295.7 L259.2,296.0 L259.7,294.6 L260.3,295.3 L260.9,294.9 L261.4,295.7 L262.0,297.4 L262.5,297.8 L263.1,297.9 L263.6,297.0 L264.1,298.7 L264.6,297.1 L265.0,295.0 L265.5,294.7 L265.9,294.5 L266.4,292.7 L266.8,293.0 L267.3,295.3 L267.8,295.3 L268.3,297.9 L268.8,299.3 L269.4,300.5 L270.0,300.9 L270.5,301.6 L271.0,304.1 L271.5,304.0 L272.0,306.1 L272.4,307.7 L272.9,308.5 L273.3,309.6 L273.8,310.5 L274.3,309.6 L274.7,310.0 L275.2,309.5 L275.7,307.5 L276.3,306.7 L276.8,306.5 L277.4,304.1 L277.9,304.6 L278.5,304.8 L279.1,304.2 L279.6,304.8 L280.2,303.1 L280.7,304.2 L281.2,303.0 L281.7,303.8 L282.1,302.3 L282.6,301.8 L283.1,300.1 L283.6,300.8 L284.1,304.0 L284.6,306.1 L285.1,307.4 L285.7,310.5 L286.1,308.7 L286.6,307.8 L287.1,309.0 L287.6,307.5 L288.2,306.7 L288.7,307.2 L289.3,307.8 L289.8,308.3 L290.3,309.2 L290.8,306.9 L291.3,307.8 L291.8,307.9 L292.3,308.7 L292.8,307.5 L293.3,310.4 L293.8,312.5 L294.3,313.5 L294.8,315.8 L295.3,319.2 L295.8,322.4 L296.4,325.3 L297.0,329.1 L297.5,327.2 L298.0,323.1 L298.6,324.2 L299.1,321.8 L299.7,321.7 L300.2,322.4 L300.7,324.1 L301.2,326.6 L301.7,329.8 L302.2,332.3 L302.7,335.0 L303.2,337.3 L303.8,339.6 L304.4,343.2 L304.9,338.1 L305.4,335.8 L305.9,332.6 L306.4,329.5 L306.9,326.9 L307.4,326.3 L307.9,326.6 L308.4,324.6 L309.0,325.3 L309.5,325.0 L310.1,325.5 L310.6,325.4 L311.2,325.5 L311.7,323.4 L312.3,325.4 L312.9,323.9 L313.3,325.4 L313.8,326.4 L314.3,326.1 L314.9,326.2 L315.5,324.3 L316.0,323.6 L316.6,323.1 L317.1,322.8 L317.7,325.0 L318.2,324.1 L318.8,326.1 L319.4,324.9 L319.9,325.3 L320.5,325.2 L321.0,326.1 L321.6,328.3 L322.2,331.3 L322.7,327.1 L323.2,325.4 L323.7,322.7 L324.2,321.9 L324.7,321.7 L325.2,321.5 L325.7,323.3 L326.2,324.6 L326.8,323.1 L327.3,325.3 L327.9,324.4 L328.4,323.9 L328.9,323.4 L329.4,324.2 L329.9,325.4 L330.4,323.5 L330.9,322.0 L331.4,320.9 L332.0,319.0 L332.5,320.2 L333.0,319.8 L333.6,317.5 L334.1,316.8 L334.5,317.7 L335.0,317.7 L335.4,318.8 L335.9,320.9 L336.4,320.8 L337.0,321.0 L337.5,322.9 L338.1,322.4 L338.7,323.3 L339.2,324.8 L339.8,329.2 L340.3,329.8 L340.9,331.8 L341.4,332.5 L342.0,335.5 L342.6,337.3 L343.1,338.3 L343.7,342.2 L344.2,345.8 L344.8,346.9 L345.3,345.9 L345.8,343.5 L346.3,341.0 L346.8,339.3 L347.3,338.6 L347.8,338.0 L348.3,338.1 L348.8,340.7 L349.2,341.0 L349.8,340.1 L350.4,339.9 L350.9,337.7 L351.5,337.3 L352.0,336.8 L352.6,338.9 L353.1,339.7 L353.7,338.7 L354.2,339.5 L354.7,339.1 L355.2,338.0 L355.7,340.6 L356.2,342.1 L356.7,343.2 L357.2,343.6 L357.7,345.6 L358.3,346.4 L358.8,346.6 L359.4,349.1 L359.8,346.0 L360.2,344.8 L360.7,342.9 L361.1,341.7 L361.7,340.2 L362.2,338.9 L362.8,335.4 L363.4,333.5 L363.9,335.3 L364.4,335.9 L364.8,335.0 L365.4,335.7 L366.0,333.5 L366.5,332.6 L367.1,332.8 L367.6,332.8 L368.1,333.4 L368.6,335.0 L369.1,334.7 L369.7,336.3 L370.2,337.6 L370.7,336.9 L371.3,336.4 L371.9,333.9 L372.4,332.9 L373.0,331.0 L373.5,330.9 L374.1,327.9 L374.6,328.6 L375.2,327.3 L375.7,327.2 L376.2,325.6 L376.7,323.5 L377.2,323.7 L377.8,322.4 L378.4,321.0 L378.9,321.3 L379.5,321.4 L380.0,319.4 L380.6,319.9 L381.1,318.3 L381.6,319.0 L382.1,316.8 L382.6,316.2 L383.1,317.1 L383.6,315.9 L384.1,314.6 L384.7,314.4 L385.2,315.1 L385.8,315.9 L386.3,317.6 L386.9,319.1 L387.5,319.2 L388.0,317.7 L388.6,319.1 L389.1,318.8 L389.6,317.9 L390.1,315.4 L390.6,314.9 L391.2,313.1 L391.7,312.7 L392.3,311.7 L392.8,311.6 L393.3,312.3 L393.8,314.6 L394.3,315.0 L394.9,313.2 L395.4,311.9 L396.0,310.9 L396.6,311.8 L397.1,310.0 L397.7,310.8 L398.2,309.4 L398.7,310.8 L399.2,309.6 L399.7,310.9 L400.2,308.7 L400.7,307.4 L401.2,306.5 L401.8,305.0 L402.3,305.2 L402.9,303.6 L403.4,303.5 L404.0,303.1 L404.5,302.1 L405.1,304.1 L405.7,302.7 L406.1,302.8 L406.6,303.6 L407.1,304.2 L407.7,303.3 L408.3,303.1 L408.8,300.7 L409.4,299.8 L409.9,299.8 L410.5,297.5 L411.0,296.5 L411.6,295.3 L412.2,295.2 L412.7,293.6 L413.3,294.6 L413.8,294.6 L414.3,293.4 L414.8,292.7 L415.3,293.8 L415.9,295.2 L416.4,294.0 L417.0,295.4 L417.5,296.1 L418.1,295.6 L418.7,294.0 L419.2,292.2 L419.8,291.6 L420.3,291.1 L420.9,290.6 L421.4,290.7 L422.0,289.4 L422.5,289.3 L423.0,291.5 L423.5,292.3 L423.9,292.9 L424.4,294.3 L424.8,297.0 L425.3,297.5 L425.7,296.8 L426.2,296.2 L426.7,296.0 L427.2,294.6 L427.8,295.5 L428.3,294.0 L428.9,294.3 L429.4,293.8 L430.0,293.3 L430.5,292.7 L431.1,292.7 L431.7,291.6 L432.2,290.9 L432.8,290.6 L433.3,289.9 L433.9,289.4 L434.4,290.8 L435.0,290.3 L435.6,291.0 L436.1,290.1 L436.7,291.0 L437.2,288.7 L437.8,289.2 L438.3,288.6 L438.8,289.1 L439.3,288.1 L439.8,286.4 L440.3,284.1 L440.8,282.9 L441.3,282.7 L441.9,282.3 L442.4,281.1 L443.0,281.4 L443.5,281.9 L444.1,280.6 L444.7,282.0 L445.2,282.2 L445.8,281.2 L446.3,283.1 L446.8,281.7 L447.3,283.4 L447.7,284.8 L448.2,285.4 L448.7,285.7 L449.2,285.6 L449.7,288.7 L450.2,288.6 L450.8,286.6 L451.4,281.9 L451.9,280.5 L452.3,281.9 L452.7,279.8 L453.2,279.4 L453.7,280.2 L454.2,282.5 L454.7,281.9 L455.2,284.6 L455.7,284.5 L456.2,287.1 L456.7,286.2 L457.2,285.7 L457.7,284.9 L458.1,286.2 L458.6,287.5 L459.1,290.1 L459.6,290.3 L460.1,292.2 L460.6,292.3 L461.4,290.1 L461.9,290.5 L462.4,293.7 L462.9,295.3 L463.3,293.4 L463.8,290.5 L464.3,290.1 L464.9,288.7 L465.5,288.6 L466.0,287.4 L466.6,286.4 L467.1,285.0 L467.6,287.4 L468.1,286.7 L468.5,287.0 L469.0,284.4 L469.5,285.4 L470.1,284.8 L470.6,284.2 L471.2,286.4 L471.8,285.7 L472.3,285.4 L472.9,285.4 L473.4,286.6 L474.0,287.1 L474.5,288.1 L475.1,287.7 L475.7,285.9 L476.2,286.4 L476.7,286.2 L477.3,287.9 L477.7,287.6 L478.2,285.1 L478.7,284.0 L479.2,281.9 L479.7,280.0 L480.3,279.2 L480.9,280.2 L481.4,279.0 L482.0,278.3 L482.5,276.8 L483.1,278.7 L483.6,277.0 L484.2,277.3 L484.8,277.7 L485.3,275.6 L485.9,276.7 L486.4,277.7 L487.0,275.5 L487.5,277.8 L488.1,276.7 L488.7,277.5 L489.2,278.1 L489.8,279.7 L490.3,280.5 L490.9,281.8 L491.4,280.2 L492.0,280.0 L492.6,281.2 L493.1,281.2 L493.7,280.3 L494.2,279.9 L494.8,280.9 L495.3,280.6 L495.9,280.9 L496.5,282.0 L497.0,283.4 L497.5,284.6 L498.0,286.3 L498.5,288.6 L499.0,289.2 L499.5,287.7 L500.0,288.2 L500.6,289.3 L501.1,290.4 L501.6,290.8 L502.0,292.6 L502.5,294.3 L502.9,290.5 L503.4,289.3 L503.9,288.2 L504.5,287.2 L505.1,288.2 L505.6,289.2 L506.2,289.1 L506.7,289.3 L507.3,289.9 L507.9,292.2 L508.4,293.8 L509.0,296.1 L509.5,294.9 L510.1,297.1 L510.7,300.3 L511.2,301.6 L511.8,301.6 L512.3,302.0 L512.9,302.2 L513.5,302.9 L514.0,301.5 L514.6,301.6 L515.2,300.2 L515.7,299.2 L516.3,297.1 L516.8,300.2 L517.4,300.5 L518.0,301.8 L518.5,303.9 L519.1,304.1 L519.6,303.0 L520.2,301.6 L520.8,300.5 L521.3,298.4 L521.9,297.1 L522.5,296.2 L523.0,294.8 L523.6,295.5 L524.1,294.1 L524.7,293.5 L525.3,294.3 L525.8,295.0 L526.4,293.7 L526.9,294.3 L527.5,295.4 L528.1,298.3 L528.6,298.8 L529.2,301.6 L529.7,302.8 L530.3,303.0 L530.9,302.2 L531.4,301.9 L532.0,300.1 L532.6,300.0 L533.1,300.6 L533.7,302.8 L534.2,302.5 L534.8,303.2 L535.4,302.6 L535.9,303.9 L536.5,304.3 L537.0,304.3 L537.6,306.9 L538.2,306.1 L538.7,305.8 L539.3,302.8 L539.9,301.4 L540.4,299.1 L541.0,298.3 L541.5,299.4 L541.9,297.4 L542.4,297.7 L542.9,296.6 L543.3,294.8 L543.8,295.5 L544.3,294.9 L544.9,295.0 L545.5,294.9 L546.0,294.7 L546.6,293.7 L547.1,294.3 L547.7,293.4 L548.3,291.1 L548.8,291.5 L549.3,291.2 L549.8,291.1 L550.3,292.7 L550.7,291.6 L551.2,289.9 L551.6,290.4 L552.2,289.3 L552.8,290.2 L553.3,291.0 L553.9,289.5 L554.4,289.7 L555.0,288.7 L555.6,289.1 L556.1,289.3 L556.7,288.5 L557.2,286.7 L557.8,284.8 L558.4,284.8 L558.9,284.7 L559.5,283.1 L560.1,282.5 L560.6,282.1 L561.2,282.3 L561.7,284.4 L562.3,283.7 L562.9,284.9 L563.4,288.2 L564.0,288.8 L564.5,288.6 L565.1,288.2 L565.7,286.3 L566.2,288.0 L566.8,286.5 L567.4,287.6 L567.9,286.8 L568.5,286.5 L569.0,287.9 L569.6,288.9 L570.2,288.7 L570.7,289.0 L571.3,291.4 L571.8,292.7 L572.4,293.8 L573.0,294.9 L573.5,294.7 L574.1,292.7 L574.6,295.0 L575.2,296.6 L575.8,297.1 L576.3,298.3 L576.9,300.1 L577.5,300.0 L578.0,299.3 L578.6,297.7 L579.1,297.8 L579.7,296.1 L580.3,295.1 L580.8,296.0 L581.4,296.1 L581.9,297.9 L582.5,299.4 L583.0,299.0 L583.5,301.7 L584.0,301.4 L584.4,300.9 L584.9,300.4 L585.3,299.4 L585.9,299.4 L586.4,299.1 L587.0,298.3 L587.6,298.6 L588.1,297.6 L588.7,299.4 L589.2,298.5 L589.8,296.0 L590.4,295.8 L590.9,294.2 L591.5,293.2 L592.0,292.0 L592.6,291.0 L593.2,289.3 L593.7,287.6 L594.3,289.1 L594.9,287.9 L595.4,287.1 L596.0,286.5 L596.5,287.6 L597.1,286.0 L597.7,286.4 L598.2,284.8 L598.8,283.0 L599.3,283.6 L599.9,282.0 L600.5,282.6 L601.0,280.5 L601.6,279.7 L602.1,279.6 L602.6,280.1 L603.0,280.3 L603.5,279.7 L603.9,278.8 L604.4,276.9 L605.0,277.1 L605.5,277.0 L606.1,276.4 L606.6,275.8 L607.2,276.5 L607.8,278.1 L608.3,278.5 L608.9,281.0 L609.4,281.4 L610.0,280.3 L610.6,280.5 L611.1,279.7 L611.7,277.6 L612.3,277.0 L612.8,277.5 L613.4,277.0 L613.9,278.4 L614.5,278.1 L615.1,279.2 L615.6,279.7 L616.2,279.2 L616.7,280.3 L617.3,281.8 L617.9,283.1 L618.4,282.5 L619.0,281.9 L619.6,281.4 L620.0,279.4 L620.5,280.5 L621.0,277.6 L621.5,278.7 L622.0,277.6 L622.5,275.4 L623.0,272.5 L623.5,272.3 L624.0,270.9 L624.5,271.2 L625.1,271.1 L625.7,269.1 L626.2,268.7 L626.8,267.8 L627.3,267.5 L627.9,269.4 L628.4,267.9 L629.0,266.8 L629.6,267.4 L630.1,265.8 L630.7,266.5 L631.2,265.4 L631.8,265.5 L632.3,262.1 L632.9,262.0 L633.5,261.6 L634.0,259.4 L634.6,259.2 L635.1,256.8 L635.7,256.6 L636.2,254.6 L636.8,255.7 L637.4,253.8 L637.9,253.7 L638.5,252.3 L639.0,252.2 L639.6,253.5 L640.1,253.6 L640.7,253.5 L641.3,253.2 L641.8,253.8 L642.4,253.0 L642.9,253.8 L643.5,253.9 L644.0,254.6 L644.5,256.3 L645.0,254.7 L645.5,257.5 L646.0,257.5 L646.4,257.4 L646.9,254.2 L647.3,255.4 L647.8,253.1 L648.3,253.1 L648.9,253.1 L649.4,250.8 L650.0,250.9 L650.5,251.2 L651.0,252.0 L651.4,254.5 L651.9,253.8 L652.4,255.4 L652.8,256.0 L653.3,257.5 L653.7,259.0 L654.2,259.4 L654.7,259.7 L655.2,262.0 L655.7,259.6 L656.2,260.5 L656.7,258.3 L657.2,257.1 L657.8,258.4 L658.3,255.9 L658.9,256.1 L659.4,255.6 L659.9,256.6 L660.4,256.8 L660.9,255.2 L661.5,255.0 L662.1,255.8 L662.6,253.8 L663.2,254.0 L663.7,252.8 L664.3,251.4 L664.8,250.1 L665.4,250.5 L666.0,249.9 L666.5,248.0 L667.1,247.1 L667.6,247.3 L668.2,245.0 L668.7,246.5 L669.3,245.4 L670.0,245.8 L670.6,246.2 L671.1,247.6 L671.7,247.8 L672.2,248.0 L672.8,246.7 L673.3,245.2 L673.9,247.0 L674.5,245.0 L675.0,243.4 L675.6,243.8 L676.1,242.9 L676.7,242.8 L677.2,241.7 L677.8,242.3 L678.4,242.5 L678.9,240.6 L679.5,239.5 L680.0,240.3 L680.6,238.9 L681.1,239.1 L681.7,239.1 L682.3,238.4 L682.8,237.6 L683.4,238.3 L683.9,236.9 L684.4,236.5 L684.9,236.9 L685.4,236.8 L685.8,234.4 L686.3,233.1 L686.9,231.8 L687.5,233.2 L688.0,232.9 L688.6,230.9 L689.1,231.3 L689.6,230.9 L690.1,232.4 L690.6,232.8 L691.0,233.7 L691.5,236.1 L692.0,233.4 L692.5,230.5 L693.0,229.4 L693.5,227.7 L694.0,226.8 L694.5,226.5 L695.1,227.2 L695.6,228.7 L696.2,228.8 L696.7,228.7 L697.3,228.3 L697.9,228.1 L698.4,228.2 L699.0,227.9 L699.5,227.0 L700.1,226.4 L700.6,225.0 L701.2,225.7 L701.8,223.8 L702.3,224.4 L702.9,220.8 L703.4,220.5 L704.0,219.2 L704.5,218.3 L705.1,217.6 L705.7,215.3 L706.1,215.8 L706.6,217.1 L707.1,219.0 L707.6,219.6 L708.0,221.3 L708.5,222.8 L708.9,224.2 L709.4,224.8 L709.9,223.7 L710.4,223.0 L710.9,221.3 L711.4,219.5 L712.0,219.2 L712.5,220.7 L713.1,219.8 L713.6,221.1 L714.2,220.1 L714.8,220.6 L715.3,220.5 L715.9,218.2 L716.4,218.3 L717.0,218.9 L717.5,216.8 L718.1,217.9 L718.7,218.2 L719.2,218.7 L719.8,217.5 L720.3,217.4 L720.9,217.6 L721.4,218.2 L722.0,219.8 L722.6,218.9 L723.1,218.4 L723.7,218.2 L724.2,216.1 L724.8,216.0 L725.3,215.1 L725.9,214.8 L726.5,213.4 L727.0,213.4 L727.6,213.7 L728.1,212.4 L728.7,213.8 L729.2,215.6 L729.7,215.1 L730.2,216.8 L730.7,223.5 L731.2,227.9 L731.7,226.7 L732.2,224.0 L732.7,221.9 L733.1,221.3 L733.6,222.3 L734.1,225.1 L734.6,226.5 L735.1,229.0 L735.6,229.3 L736.1,232.4 L736.6,233.4 L737.1,236.9 L737.6,239.1 L738.1,237.8 L738.6,235.8 L739.1,234.6 L739.6,234.4 L740.2,236.0 L740.8,234.9 L741.3,236.9 L741.8,234.6 L742.2,233.4 L742.6,233.1 L743.1,230.2 L743.6,230.8 L744.1,231.6 L744.5,230.7 L745.0,230.9 L745.6,231.3 L746.1,232.4 L746.7,235.5 L747.3,235.4 L747.7,236.2 L748.2,235.3 L748.7,236.1 L749.3,233.7 L749.9,233.9 L750.4,233.3 L751.0,231.7 L751.5,230.3 L752.1,228.7 L752.6,228.8 L753.2,227.2 L753.8,227.1 L754.3,223.8 L754.9,222.0 L755.4,222.0 L756.0,221.4 L756.5,221.4 L757.1,222.0 L757.7,221.3 L758.2,219.7 L758.8,220.6 L759.3,219.7 L759.9,218.3 L760.4,217.7 L761.0,216.3 L761.6,217.9 L762.1,216.1 L762.7,215.9 L763.2,217.7 L763.8,216.4 L764.3,217.5 L764.8,215.0 L765.3,214.8 L765.8,212.3 L766.3,211.0 L766.8,212.1 L767.3,210.1 L767.8,209.4 L768.2,208.9 L768.6,209.3 L769.1,210.3 L769.5,210.9 L770.1,211.7 L770.6,212.9 L771.2,211.0 L771.8,212.3 L772.2,211.3 L772.7,210.1 L773.2,211.4 L773.7,209.4 L774.1,209.5 L774.6,210.3 L775.0,211.5 L775.5,213.8 L776.0,214.5 L776.5,216.9 L777.0,216.8 L777.5,217.5 L778.1,216.7 L778.6,217.1 L779.2,215.3 L779.7,218.0 L780.2,217.8 L780.7,219.8 L781.2,220.4 L781.7,224.0 L782.2,224.2 L782.7,225.9 L783.2,224.9 L783.6,227.2 L784.1,226.4 L784.6,224.4 L785.1,223.5 L785.7,222.6 L786.2,221.9 L786.8,220.9 L787.4,221.3 L787.9,219.1 L788.5,219.2 L789.0,218.6 L789.6,218.3 L790.1,219.4 L790.7,216.9 L791.3,219.0 L791.8,217.5 L792.4,216.0 L792.9,215.7 L793.5,216.2 L794.0,214.6 L794.5,215.2 L795.0,213.9 L795.5,212.6 L796.0,213.5 L796.5,213.0 L797.0,213.1 L797.6,215.0 L798.1,213.7 L798.7,214.9 L799.2,216.1 L799.8,217.7 L800.4,215.9 L800.9,217.5 L801.5,218.3 L802.0,219.3 L802.6,219.3 L803.1,217.3 L803.7,218.7 L804.3,217.7 L804.8,218.0 L805.4,220.7 L805.9,219.8 L806.5,218.8 L807.0,219.9 L807.6,220.1 L808.2,218.7 L808.7,217.6 L809.3,216.8 L809.8,218.0 L810.4,216.1 L810.9,215.8 L811.5,214.3 L812.1,215.0 L812.6,213.8 L813.2,213.5 L813.7,213.6 L814.3,213.0 L814.8,214.6 L815.4,215.1 L816.0,215.4 L816.5,214.4 L817.1,213.8 L817.6,214.9 L818.2,212.1 L818.7,212.5 L819.3,213.1 L820.0,213.2 L820.6,212.6 L821.1,213.4 L821.7,212.8 L822.2,211.0 L822.8,210.1 L823.3,209.2 L823.9,209.1 L824.5,208.7 L825.0,209.2 L825.4,210.9 L825.9,210.2 L826.5,208.6 L827.1,209.6 L827.6,208.7 L828.2,207.3 L828.7,208.0 L829.3,207.6 L829.8,207.0 L830.4,206.5 L831.0,205.3 L831.5,204.5 L832.1,203.9 L832.6,203.5 L833.2,204.5 L833.7,202.7 L834.3,203.2 L834.9,204.3 L835.4,205.4 L836.0,204.3 L836.5,204.2 L837.1,205.8 L837.6,204.7 L838.1,206.4 L838.6,206.0 L839.1,208.1 L839.6,208.1 L840.1,207.3 L840.6,207.7 L841.2,204.7 L841.7,203.3 L842.3,203.5 L842.8,201.3 L843.4,201.3 L844.0,200.8 L844.5,199.1 L845.1,198.0 L845.6,196.5 L846.2,196.1 L846.7,195.4 L847.2,195.0 L847.7,194.4 L848.2,193.1 L848.8,194.9 L849.3,196.3 L849.9,196.9 L850.5,197.6 L851.0,195.0 L851.4,195.6 L851.9,193.1 L852.5,191.3 L853.1,190.7 L853.6,188.9 L854.2,187.9 L854.7,187.5 L855.3,184.9 L855.8,183.9 L856.4,183.5 L856.9,182.5 L857.4,181.9 L857.8,183.7 L858.3,182.3 L858.8,183.2 L859.2,183.1 L859.7,184.0 L860.1,185.0 L860.7,185.6 L861.2,183.5 L861.8,182.0 L862.3,182.0 L862.8,184.8 L863.3,186.4 L863.8,187.9 L864.3,190.8 L864.8,189.8 L865.3,192.4 L865.8,193.1 L866.3,194.8 L866.8,195.6 L867.2,195.4 L867.7,195.6 L868.1,192.2 L868.6,192.0 L869.0,191.7 L869.6,189.1 L870.1,187.8 L870.7,188.5 L871.3,185.7 L871.8,185.4 L872.4,185.8 L872.9,183.7 L873.5,183.5 L874.0,184.7 L874.6,183.7 L875.2,183.4 L875.7,184.2 L876.3,184.4 L876.8,184.4 L877.4,181.4 L877.9,182.0 L878.5,182.1 L879.1,182.0 L879.6,180.6 L880.2,181.3 L880.7,180.5 L881.3,179.5 L881.8,179.3 L882.4,179.8 L883.0,179.6 L883.5,181.2 L884.1,181.9 L884.6,182.0 L885.1,181.9 L885.6,182.1 L886.1,184.2 L886.7,183.0 L887.2,183.2 L887.8,181.1 L888.3,181.3 L888.9,181.1 L889.5,181.2 L890.0,183.2 L890.6,182.7 L891.0,183.1 L891.5,181.9 L892.0,182.2 L892.5,183.5 L893.0,184.4 L893.5,186.1 L894.0,187.2 L894.4,186.8 L894.9,184.6 L895.3,184.0 L895.8,184.2 L896.3,183.7 L896.9,181.7 L897.4,180.3 L898.0,179.8 L898.6,178.1 L899.1,178.8 L899.7,175.9 L900.2,175.3 L900.8,174.8 L901.3,173.4 L901.9,172.8 L902.5,172.3 L902.9,173.9 L903.4,174.7 L903.9,173.8 L904.4,172.5 L904.9,171.1 L905.4,171.7 L905.9,170.1 L906.3,170.2 L906.8,170.6 L907.2,174.0 L907.7,173.8 L908.2,172.5 L908.8,172.5 L909.3,170.2 L909.9,169.4 L910.4,169.9 L910.8,168.1 L911.3,166.8 L911.8,167.1 L912.3,166.3 L912.7,168.4 L913.1,169.2 L913.6,169.4 L914.1,170.0 L914.6,167.2 L915.1,167.9 L915.6,170.0 L916.1,171.0 L916.6,173.1 L917.1,175.1 L917.6,176.1 L918.1,179.0 L918.5,177.4 L919.0,177.1 L919.5,176.1 L920.0,176.3 L920.4,173.1 L920.9,173.2 L921.3,172.3 L921.8,174.5 L922.3,176.2 L922.8,175.4 L923.2,177.5 L923.7,175.3 L924.2,176.3 L924.7,173.8 L925.2,174.8 L925.7,173.0 L926.2,171.5 L926.7,172.3 L927.1,173.0 L927.6,170.9 L928.0,171.8 L928.4,170.1 L929.0,170.2 L929.6,170.4 L930.1,168.3 L930.7,168.9 L931.2,170.1 L931.7,168.9 L932.2,170.1 L932.7,167.4 L933.2,166.1 L933.6,162.7 L934.1,161.9 L934.6,158.3 L935.1,157.5 L935.7,155.8 L936.2,155.3 L936.8,154.7 L937.4,153.8 L937.9,153.5 L938.5,152.9 L939.0,153.3 L939.6,154.1 L940.1,154.8 L940.7,155.4 L941.3,153.1 L941.8,154.5 L942.4,154.8 L942.9,155.5 L943.5,153.6 L944.0,155.0 L944.5,154.5 L945.0,151.1 L945.5,150.8 L946.0,149.3 L946.5,147.5 L947.0,145.6 L947.6,145.8 L948.1,144.7 L948.7,144.8 L949.2,144.9 L949.7,145.3 L950.2,145.1 L950.7,145.6 L951.2,144.3 L951.7,142.0 L952.2,140.4 L952.7,138.2 L953.2,135.1 L953.7,134.5 L954.0,130.0 L954.6,128.4 L955.2,126.1 L955.7,124.9 L956.3,123.8 L956.8,125.1 L957.4,127.8 L958.0,133.5 L958.5,137.9 L958.9,140.3 L959.3,141.2 L959.8,138.3 L960.2,135.6 L960.8,131.4 L961.3,128.9 L961.9,126.0 L962.5,123.3 L963.0,119.9 L963.6,118.8 L964.1,119.1 L964.7,121.6 L965.3,120.8 L965.8,119.3 L966.4,119.9 L966.9,118.8 L967.5,118.1 L968.1,117.1 L968.5,114.7 L969.0,115.2 L969.4,113.7 L969.9,111.6 L970.4,112.5 L970.9,110.9 L971.4,114.5 L972.0,116.5 L972.6,119.4 L973.1,122.1 L973.7,118.7 L974.2,117.7 L974.8,114.9 L975.4,112.0 L975.9,112.3 L976.5,113.2 L977.0,117.0 L977.6,118.2 L978.1,115.9 L978.6,116.6 L979.1,114.3 L979.6,114.8 L980.2,112.6 L980.6,115.3 L981.1,117.6 L981.5,118.8 L982.0,119.6 L982.4,122.1 L982.9,122.7 L983.3,120.6 L983.8,119.9 L984.3,121.4 L984.9,121.4 L985.5,120.5 L986.0,118.2 L986.6,118.7 L987.1,116.5 L987.7,116.4 L988.3,112.7 L988.8,112.6 L989.4,111.3 L990.0,111.5 L990.5,109.8 L991.1,109.1 L991.6,110.4 L992.2,112.0 L992.8,111.5 L993.3,112.3 L993.9,114.3 L994.4,117.7 L995.0,119.3 L995.6,120.3 L996.1,123.3 L996.7,121.6 L997.2,119.9 L997.8,120.0 L998.4,117.7 L998.9,115.7 L999.5,114.7 L1000.1,114.3 L1000.6,112.8 L1001.2,110.8 L1001.7,109.8 L1002.3,106.8 L1002.9,105.5 L1003.4,104.7 L1004.0,102.5 L1004.5,103.4 L1005.1,100.8 L1005.7,101.1 L1006.2,101.6 L1006.8,100.3 L1007.4,99.7 L1007.9,101.8 L1008.5,101.4 L1009.0,100.4 L1009.6,101.7 L1010.2,101.7 L1010.7,100.0 L1011.3,97.5 L1011.8,98.9 L1012.3,102.2 L1012.7,103.1 L1013.1,101.3 L1013.5,99.1 L1014.1,97.1 L1014.6,94.6 L1015.2,93.8 L1015.8,90.7 L1016.3,88.1 L1016.7,89.1 L1017.2,86.2 L1017.7,87.2 L1018.1,87.1 L1018.6,87.9 L1019.0,89.9 L1019.5,89.5 L1019.9,91.3 L1020.4,92.1 L1020.9,90.4 L1021.4,89.6 L1021.9,90.9 L1022.5,93.0 L1023.1,95.7 L1023.6,96.9 L1024.2,98.7 L1024.8,100.8 L1025.1,103.8 L1025.5,108.7 L1026.0,104.3 L1026.4,98.6 L1026.9,96.7 L1027.3,97.5 L1027.7,100.9 L1028.1,102.5 L1028.5,106.0 L1028.9,110.9 L1029.4,118.0 L1029.8,123.4 L1030.2,128.0 L1030.6,135.4 L1031.2,150.0 L1031.6,159.2 L1032.0,167.0 L1032.5,172.0 L1033.2,182.0 L1033.7,170.0 L1034.2,160.0 L1034.6,155.2 L1035.0,150.0 L1035.5,158.0 L1036.2,150.0 L1036.6,148.0 L1037.0,145.0 L1037.4,142.5 L1037.8,141.0 L1038.2,144.1 L1038.6,150.0 L1039.3,146.0 L1039.8,149.2 L1040.3,155.0 L1041.0,160.0 L1041.4,155.8 L1041.8,153.5" fill="none" stroke="#222322" stroke-width=".92" stroke-linejoin="round"/>
<path d="M1031.6,110.2 L1036,110.5 L1041,111.2" fill="none" stroke="#454b4a" stroke-width="1.9" stroke-dasharray="2.2 .7"/>
<line x1="33" y1="374.1" x2="46.4" y2="374.1" stroke="#4a4846" stroke-width="1.4"/>
<line x1="33" y1="401.6" x2="46.4" y2="401.6" stroke="#5e8994" stroke-width="1.3" stroke-dasharray="2.4 1.3"/>
<line x1="33" y1="429.9" x2="46.4" y2="429.9" stroke="#f2a555" stroke-width="1.4"/>
</svg>
<div class="t era">1920–1929</div>
<div class="t title">The Roaring<br><span>Twenties</span></div>
<div class="t sub" style="top:162px">Pent-Up Demand,</div>
<div class="t sub" style="top:176.8px">Post-World War I</div>
<div class="t key">KEY</div>
<div class="t lg" style="top:367.3px">Dow Jones Industrials</div>
<div class="t lg" style="top:393.3px;letter-spacing:.12px">200-Day Smoothing</div>
<div class="t lg" style="top:419.8px"><span style="letter-spacing:-.15px">DJIA Price to</span><br>Dividend Ratio</div>
<div class="t pg">21</div>
<div class="t cp">© Copyright 2023, Bull &amp; Bear Markets Ltd., the Market Intelligence<br><span style="letter-spacing:.14px">Centre. Any additional permissions. All Rights Reserved.</span></div>
<div class="ann" style="left:229.35px;top:22.40px"><b>JAN 3, 1920</b><i>RCA founded with $25M in</i><i>capitalization.</i></div>
<div class="ann" style="left:229.35px;top:49.15px"><b>MAR 1, 1920</b><i>Railroads released from</i><i>government control.</i></div>
<div class="ann" style="left:229.35px;top:76.15px"><b>MAY 1920</b><i>Short skirts gaining popularity.</i></div>
<div class="ann" style="left:229.35px;top:97.15px"><b>SEPT 16, 1920</b><i>Bomb rocks Wall Street, 33 killed.</i></div>
<div class="ann" style="left:229.35px;top:117.90px"><b>DEC 1920</b><i>J.P. Morgan &amp; Co. buys control of</i><i>GM ($80M).</i></div>
<div class="ann" style="left:229.35px;top:144.65px"><b>DEC 1920</b><i>Dow Jones and Company founder</i><i>Edward Jones, dies.</i></div>
<div class="ann" style="left:311.17px;top:22.60px"><h3 style="letter-spacing:-0.41px">Feb 17, 1921</h3><i>There are 9 million autos on the</i><i>road in 1920.</i></div>
<div class="ann" style="left:311.17px;top:52.65px"><b>APR 12, 1921</b><i>Ford returns to pre-war</i><i>production of 1 million cars</i><i>per year.</i></div>
<div class="ann" style="left:311.17px;top:85.65px"><b>JUNE 1921</b><i>Barron&#x27;s Financial Weekly is first</i><i>published by editor Clarence</i><i>Barron.</i></div>
<div class="ann" style="left:311.17px;top:117.10px"><h3 style="letter-spacing:-0.33px">Aug 24, 1921</h3><i>TROUGH @63.90 (-46.6%)</i></div>
<div class="ann" style="left:392.99px;top:22.40px"><b>FEB 4, 1922</b><i>Ford buys Lincoln Motor Co.</i><i>for $8M.</i></div>
<div class="ann" style="left:392.99px;top:47.60px"><h3 style="letter-spacing:-0.10px">Dec 1922</h3><i>Poor&#x27;s Publishing Co. and</i><i>Standard Statistics begin rating</i><i>corporate bonds and municipal</i><i>securities in 1922 and 1923.</i></div>
<div class="ann" style="left:474.81px;top:22.40px"><b>JAN 1923</b><i>NYSE seat price at $76,000.</i></div>
<div class="ann" style="left:474.81px;top:43.15px"><b>JAN 15, 1923</b><i>National City Co. and Guaranty</i><i>Co. join in $150M copper merger.</i></div>
<div class="ann" style="left:474.81px;top:70.15px"><b>FEB 1923</b><i>Dow Jones co-founder, Charles</i><i>Bergstresser, dies.</i></div>
<div class="ann" style="left:474.81px;top:95.35px"><h3 style="letter-spacing:-0.18px">Mar 20, 1923</h3><i>PEAK @105.38 (+64.9%)</i></div>
<div class="ann" style="left:474.81px;top:117.35px"><h3 style="letter-spacing:-0.14px">Sept 1923</h3><i>Standard Statistics develops</i><i>its first stock market index</i><i>comprising 233 U.S. companies; it&#x27;s</i><i>the first published capitalization-</i><i>weighted index.</i></div>
<div class="ann" style="left:474.81px;top:164.20px"><h3 style="letter-spacing:-0.27px">Oct 27, 1923</h3><i>TROUGH @85.76 (-18.6%)</i></div>
<div class="ann" style="left:556.63px;top:22.60px"><h3 style="letter-spacing:-0.30px">Jan 1924</h3><i>Installment buying becomes</i><i>popular; auto stocks lead market.</i></div>
<div class="ann" style="left:556.63px;top:50.60px"><h3 style="letter-spacing:-0.24px">Nov 1924</h3><i>Stock prices rise on heavy</i><i>volume (2,226,226 shares traded)</i><i>following Coolidge presidential</i><i>victory.</i></div>
<div class="ann" style="left:638.45px;top:22.40px"><b>APR 28, 1925</b><i>U.K. restores gold standard.</i></div>
<div class="ann" style="left:638.45px;top:43.15px"><b>JUNE 6, 1925</b><i>Chrysler Motor Company formed.</i></div>
<div class="ann" style="left:638.45px;top:63.90px"><b>OCT 8, 1925</b><i>NYSE seat price at $125,000.</i></div>
<div class="ann" style="left:638.45px;top:84.65px"><b>NOV 5, 1925</b><i>U.S. Steel share price jumps to a</i><i>record $139.</i></div>
<div class="ann" style="left:720.27px;top:22.40px"><b>MAR 31, 1926</b><i>Stock prices collapse in res-</i><i>ponse to Interstate Commerce</i><i>Commission to nullify Nickel Plate</i><i>merger, planned investigation of</i><i>oil industry by government, and</i><i>decline in commodity prices.</i></div>
<div class="ann" style="left:720.27px;top:74.15px"><b>JULY 2, 1926</b><i>French franc continues collapse;</i><i>franc is at 40 to one USD.</i></div>
<div class="ann" style="left:720.27px;top:101.15px"><b>AUG 10, 1926</b><i>Northwest Airways incorporated</i><i>in Michigan.</i></div>
<div class="ann" style="left:720.27px;top:128.15px"><b>SEPT 1926</b><i>NYSE seat price sells at $175,000.</i></div>
<div class="ann" style="left:802.09px;top:22.40px"><b>JAN 10, 1927</b><i>First woman acquires seat</i><i>on NYSE.</i></div>
<div class="ann" style="left:802.09px;top:47.60px"><h3 style="letter-spacing:-0.39px">Jan 1927</h3><i>America is the land of the</i><i>automobile with 39% of the world</i><i>total with one car for every six</i><i>Americans, compared to one car</i><i>for every 57 people in England and</i><i>one car for every 289 in Germany.</i></div>
<div class="ann" style="left:802.09px;top:102.65px"><b>MAR 8, 1927</b><i>Pan Am is incorporated in</i><i>New York.</i></div>
<div class="ann" style="left:802.09px;top:129.40px"><b>NOV 10, 1927</b><i>GM declares largest dividend in</i><i>U.S. history.</i></div>
<div class="ann" style="left:802.09px;top:156.15px"><b>NOV 30, 1927</b><i>Price for new Ford auto increase</i><i>from $385 to $570.</i></div>
<div class="ann" style="left:883.91px;top:22.40px"><b>JAN 1928</b><i>NYSE seat price sells at $305,000.</i></div>
<div class="ann" style="left:883.91px;top:43.15px"><b>FEB 15, 1928</b><i>Record 7.9M shares trade in</i><i>two hours.</i></div>
<div class="ann" style="left:883.91px;top:70.15px"><b>MAR 9, 1928</b><i>GM share price increases $5.25 in</i><i>two hours (record).</i></div>
<div class="ann" style="left:883.91px;top:97.15px"><b>MAR 29, 1928</b><i>4.79M shares are traded on the</i><i>NYSE (record).</i></div>
<div class="ann" style="left:883.91px;top:124.15px"><b>MAY 29, 1928</b><i>Chrysler and Dodge merge</i><i>to form third-largest auto</i><i>company in production</i><i>and sales.</i></div>
<div class="ann" style="left:883.91px;top:197.40px"><b>NOV 1928</b><i>Clarence Barron, editor of Barron&#x27;s</i><i>Financial Weekly, dies.</i></div>
<div class="ann" style="left:883.91px;top:221.25px"><b>DEC 7, 1928</b><i>DJIA down 11.7% on heavy volume</i><i>through Dec. 8, 1928.</i></div>
<div class="ann" style="left:883.91px;top:246.90px"><b>DEC 1928</b><i>Major break occurs in market</i><i>values on the NYSE wipe off $60M</i><i>in wealth; RCA and others fall.</i></div>
<div class="ann" style="left:883.91px;top:277.40px"><b>DEC 1928</b><i>NYSE over 5M in share volume</i><i>for the first time ever.</i></div>
<div class="ann" style="left:965.73px;top:22.40px"><b>JAN 1929</b><i>NYSE seat price at $625,000.</i></div>
<div class="ann" style="left:965.73px;top:41.35px"><h3 style="letter-spacing:-0.30px;margin-top:0;margin-bottom:1.1px">Feb 15, 1929</h3><i>Federal Reserve firm in curbing</i><i>stock speculation.</i></div>
<div class="ann" style="left:965.73px;top:71.15px"><b>FEB 27, 1929</b><i>Largest bank in U.S. formed</i><i>with the $2B merger</i><i>of National Bank of</i><i>Commerce and</i><i>Guaranty.</i></div>
<div class="ann" style="left:965.73px;top:160.35px"><h3 style="letter-spacing:-0.14px;margin-left:1.6px">Sept 3, 1929</h3><i>PEAK @381.17 (+344.5%)</i></div>
<div class="ann" style="left:965.73px;top:181.90px"><b>OCT 23, 1929</b><i>DJIA down 20.66 points, -6.3%, on</i><i>6.4M shares.</i></div>
<div class="ann" style="left:965.73px;top:206.40px"><b>OCT 24, 1929</b><i>DJIA down 6.38 points, -2.1%, on</i><i>12.9M shares.</i></div>
<div class="ann" style="left:965.73px;top:231.40px"><b>OCT 25, 1929</b><i>DJIA up 1.75 points, +.6%, on 5.9M</i><i>shares.</i></div>
<div class="ann" style="left:965.73px;top:258.15px"><b>OCT 26, 1929</b><i>DJIA down 2.25 points, -.7%,</i><i>on 2.1M shares.</i></div>
<div class="ann" style="left:965.73px;top:283.60px"><h3 style="letter-spacing:-0.12px">Oct 28, 1929</h3><i>DJIA down 38.33 points,</i><i>12.8%, ON 9.2M shares.</i></div>
<div class="ann" style="left:965.73px;top:372.40px"><b>OCT 29, 1929</b><i>DJIA down 30.57 points,</i><i>11.7%, on 16.4M shares.</i></div>
<div class="ann" style="left:965.73px;top:396.90px"><b>OCT 30–31, 1929</b><i>DJIA increases 43.44 points</i><i>or 18.9%, then resumes a</i><i>downward trend until Nov</i><i>13, 1929.</i></div>
<div class="ann" style="left:965.73px;top:434.60px"><h3 style="letter-spacing:-0.30px">Nov 13, 1929</h3><i>TROUGH @198.69 (-47.9%)</i><i>fell over a 72-day period.</i></div>
<div class="ann" style="left:965.73px;top:462.95px"><b>DEC 1929</b><i>NYSE over 1.1B in share</i><i>volume for the first time ever.</i></div>
<div class="ann" style="left:995.5px;top:134.40px"><b>MAR 17, 1929</b></div>
<div class="ann" style="left:988px;top:140.60px"><i>GM buys German</i></div>
<div class="ann" style="left:983.5px;top:146.85px"><i>auto firm Opel AG.</i></div>
<div class="ax" style="left:206px;width:12.4px;text-align:right;top:314.55px">32</div>
<div class="ax" style="left:206px;width:12.4px;text-align:right;top:324.03px">31</div>
<div class="ax" style="left:206px;width:12.4px;text-align:right;top:333.51px">30</div>
<div class="ax" style="left:206px;width:12.4px;text-align:right;top:342.99px">29</div>
<div class="ax" style="left:206px;width:12.4px;text-align:right;top:352.47px">28</div>
<div class="ax" style="left:206px;width:12.4px;text-align:right;top:361.95px">27</div>
<div class="ax" style="left:206px;width:12.4px;text-align:right;top:371.43px">26</div>
<div class="ax" style="left:206px;width:12.4px;text-align:right;top:380.91px">25</div>
<div class="ax" style="left:206px;width:12.4px;text-align:right;top:390.39px">24</div>
<div class="ax" style="left:206px;width:12.4px;text-align:right;top:399.87px">23</div>
<div class="ax" style="left:206px;width:12.4px;text-align:right;top:409.35px">22</div>
<div class="ax" style="left:206px;width:12.4px;text-align:right;top:418.83px">21</div>
<div class="ax" style="left:206px;width:12.4px;text-align:right;top:428.31px">20</div>
<div class="ax" style="left:206px;width:12.4px;text-align:right;top:437.79px">19</div>
<div class="ax" style="left:206px;width:12.4px;text-align:right;top:447.27px">18</div>
<div class="ax" style="left:206px;width:12.4px;text-align:right;top:456.75px">17</div>
<div class="ax" style="left:206px;width:12.4px;text-align:right;top:466.23px">16</div>
<div class="ax" style="left:206px;width:12.4px;text-align:right;top:475.71px">15</div>
<div class="ax" style="left:206px;width:12.4px;text-align:right;top:485.19px">14</div>
<div class="ax" style="left:206px;width:12.4px;text-align:right;top:494.67px">13</div>
<div class="ax axr" style="left:1047.2px;top:90.35px">367</div>
<div class="ax axr" style="left:1047.2px;top:101.81px">340</div>
<div class="ax axr" style="left:1047.2px;top:113.27px">314</div>
<div class="ax axr" style="left:1047.2px;top:124.73px">291</div>
<div class="ax axr" style="left:1047.2px;top:136.19px">269</div>
<div class="ax axr" style="left:1047.2px;top:147.65px">249</div>
<div class="ax axr" style="left:1047.2px;top:159.11px">231</div>
<div class="ax axr" style="left:1047.2px;top:170.57px">213</div>
<div class="ax axr" style="left:1047.2px;top:182.03px">198</div>
<div class="ax axr" style="left:1047.2px;top:193.49px">183</div>
<div class="ax axr" style="left:1047.2px;top:204.95px">169</div>
<div class="ax axr" style="left:1047.2px;top:216.41px">157</div>
<div class="ax axr" style="left:1047.2px;top:227.87px">145</div>
<div class="ax axr" style="left:1047.2px;top:239.33px">134</div>
<div class="ax axr" style="left:1047.2px;top:250.79px">124</div>
<div class="ax axr" style="left:1047.2px;top:262.25px">115</div>
<div class="ax axr" style="left:1047.2px;top:273.71px">106</div>
<div class="ax axr" style="left:1047.2px;top:285.17px">98</div>
<div class="ax axr" style="left:1047.2px;top:296.63px">91</div>
<div class="ax axr" style="left:1047.2px;top:308.09px">84</div>
<div class="ax axr" style="left:1047.2px;top:319.55px">78</div>
<div class="ax axr" style="left:1047.2px;top:331.01px">72</div>
<div class="ax axr" style="left:1047.2px;top:342.47px">67</div>
<div class="yr" style="left:209.25px;top:576.4px">1920</div>
<div class="yr" style="left:291.07px;top:576.4px">1921</div>
<div class="yr" style="left:372.89px;top:576.4px">1922</div>
<div class="yr" style="left:454.71px;top:576.4px">1923</div>
<div class="yr" style="left:536.53px;top:576.4px">1924</div>
<div class="yr" style="left:618.35px;top:576.4px">1925</div>
<div class="yr" style="left:700.17px;top:576.4px">1926</div>
<div class="yr" style="left:781.99px;top:576.4px">1927</div>
<div class="yr" style="left:863.81px;top:576.4px">1928</div>
<div class="yr" style="left:945.63px;top:576.4px">1929</div>
<div class="yr" style="left:1027.45px;top:576.4px">1930</div>
<div class="bl" style="left:228px;top:511.50px;color:#fde7cc;font-weight:bold">Bear Mkt</div>
<div class="bl" style="left:362.5px;top:511.50px;color:#e4eef4;font-weight:bold">Bull Mkt</div>
<div class="bl" style="left:234.5px;top:528.50px;color:#efedeb;font-weight:bold">Recession</div>
<div class="bl" style="left:350px;top:528.50px;color:#f3f1ef;font-weight:bold">Expansion</div>
<div class="bl" style="left:228px;top:546.00px;color:#ffffff;font-weight:bold">Wilson (D)</div>
<div class="bl" style="left:316px;top:545.40px;color:#9c7710;font-weight:bold">Harding (R)</div>
<div class="bl" style="left:511px;top:545.40px;color:#9c7710;font-weight:bold">Coolidge (R)</div>
<div class="bl" style="left:620px;top:545.40px;color:#9c7710;font-weight:bold">Coolidge (R)</div>
<div class="bl" style="left:981px;top:545.40px;color:#9c7710;font-weight:bold">Hoover (R)</div>
</body></html>
